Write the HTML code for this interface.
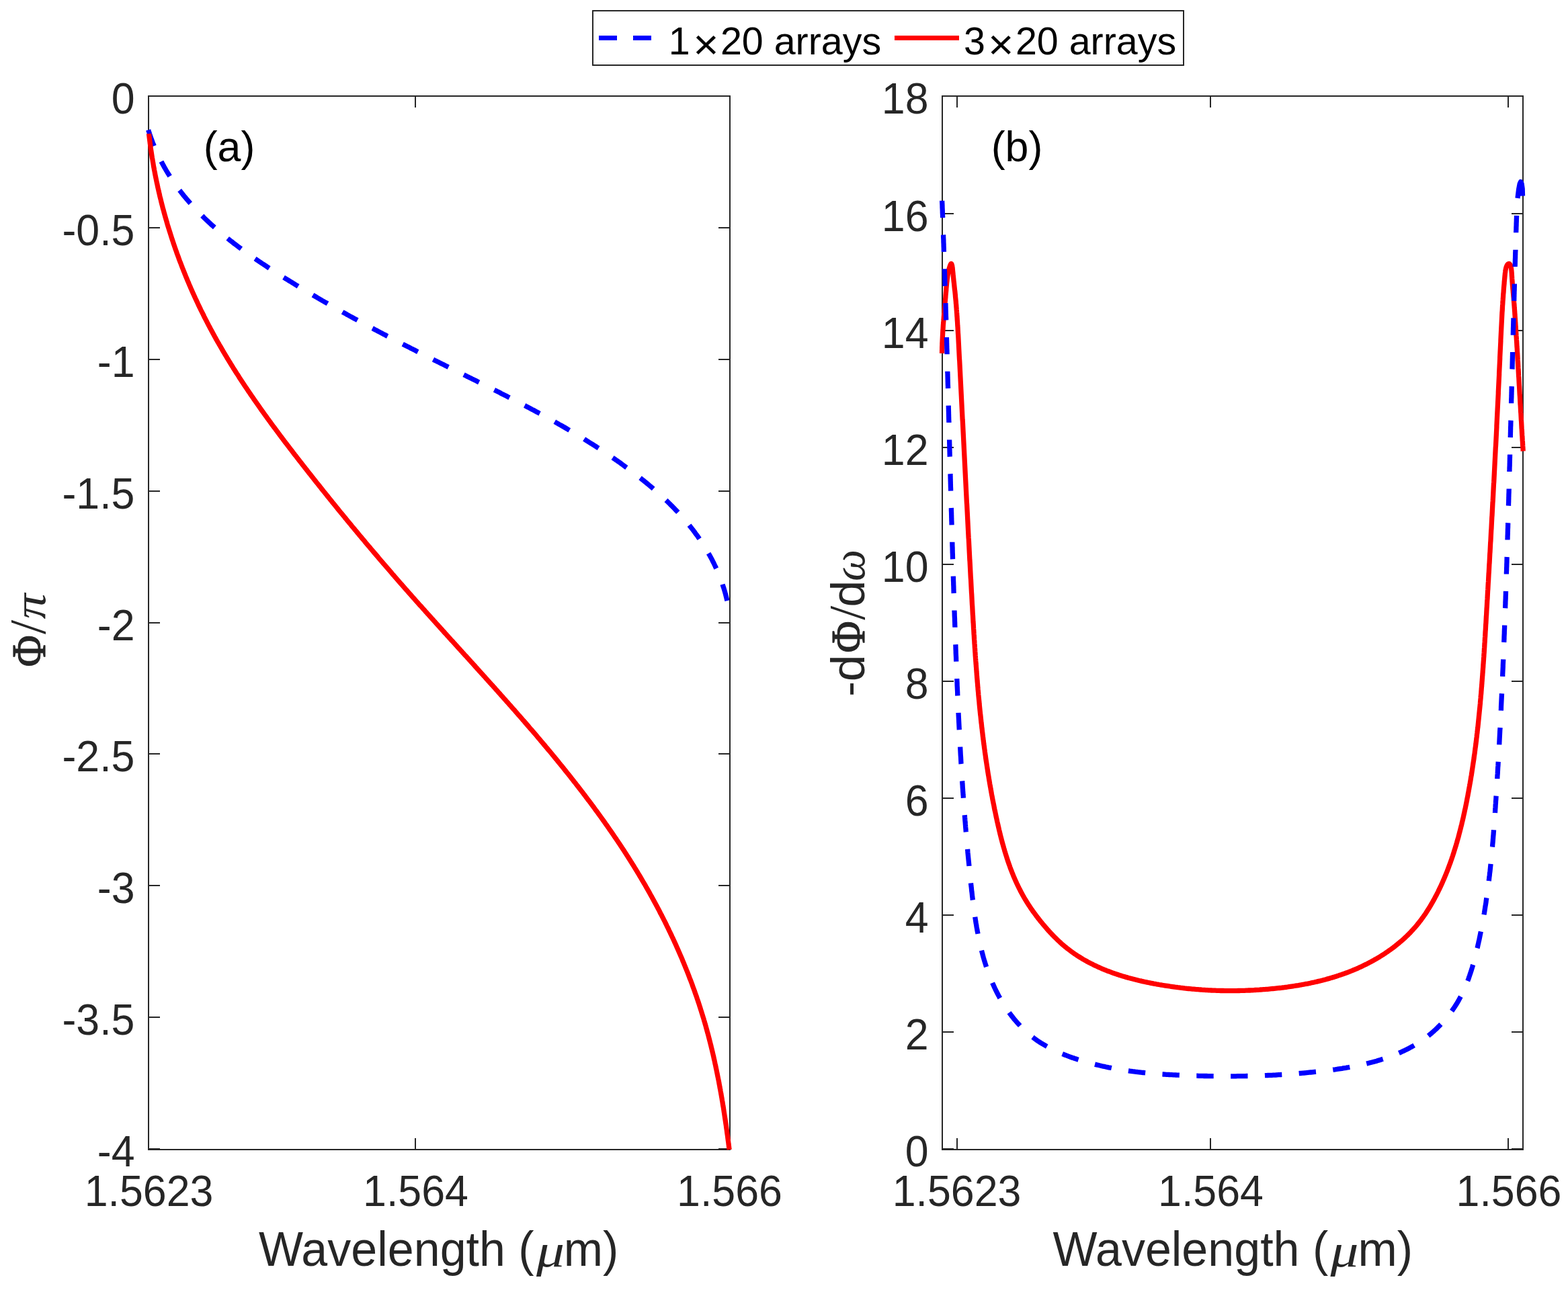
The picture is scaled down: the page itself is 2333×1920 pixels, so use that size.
<!DOCTYPE html>
<html><head><meta charset="utf-8"><title>Phase and group delay of 1x20 and 3x20 arrays</title>
<style>html,body{margin:0;padding:0;background:#fff;overflow:hidden;}svg{display:block;}</style>
</head><body>
<svg width="2333" height="1920" viewBox="0 0 2333 1920">
<rect width="2333" height="1920" fill="#fff"/>
<rect x="221" y="143" width="865" height="1568" fill="none" stroke="#262626" stroke-width="2"/>
<path d="M221 1711V1694M221 143V160M618 1711V1694M618 143V160M1086 1711V1694M1086 143V160M221 143.0H238M1086 143.0H1069M221 339.0H238M1086 339.0H1069M221 535.0H238M1086 535.0H1069M221 731.0H238M1086 731.0H1069M221 927.0H238M1086 927.0H1069M221 1122.0H238M1086 1122.0H1069M221 1318.0H238M1086 1318.0H1069M221 1514.0H238M1086 1514.0H1069M221 1710.0H238M1086 1710.0H1069" fill="none" stroke="#262626" stroke-width="2"/>
<rect x="1402" y="143" width="864" height="1568" fill="none" stroke="#262626" stroke-width="2"/>
<path d="M1424 1711V1694M1424 143V160M1801 1711V1694M1801 143V160M2244 1711V1694M2244 143V160M1402 1710.0H1419M2266 1710.0H2249M1402 1536.0H1419M2266 1536.0H2249M1402 1362.0H1419M2266 1362.0H2249M1402 1188.0H1419M2266 1188.0H2249M1402 1014.0H1419M2266 1014.0H2249M1402 840.0H1419M2266 840.0H2249M1402 666.0H1419M2266 666.0H2249M1402 492.0H1419M2266 492.0H2249M1402 318.0H1419M2266 318.0H2249M1402 143.0H1419M2266 143.0H2249" fill="none" stroke="#262626" stroke-width="2"/>
<path d="M220.6 193.1L221.2 195.1L221.9 197.1L222.5 199.1L223.2 201.1L223.9 203.1L224.6 205.1L225.3 207.0L226.0 209.0L226.7 210.9L227.4 212.8L228.2 214.7L229.0 216.6L229.7 218.5L230.5 220.4L231.3 222.3L232.2 224.1L233.0 226.0L233.8 227.8L234.7 229.7L235.5 231.5L236.4 233.3L237.3 235.1L238.2 236.9L239.1 238.7L240.0 240.5L241.0 242.3L241.9 244.1L242.9 245.8L243.8 247.6L244.8 249.3L245.8 251.0L246.8 252.8L247.8 254.5L248.8 256.2L249.9 257.9L250.9 259.6L252.0 261.2L253.0 262.9L254.1 264.6L255.2 266.2L256.3 267.9L257.4 269.5L258.5 271.2L259.6 272.8L260.8 274.4L261.9 276.0L263.1 277.6L264.2 279.2L265.4 280.8L266.6 282.4L267.8 283.9L269.0 285.5L270.2 287.0L271.4 288.6L272.6 290.1L273.9 291.7L275.1 293.2L276.4 294.7L277.6 296.2L278.9 297.7L280.2 299.2L281.5 300.7L282.8 302.2L284.1 303.7L285.4 305.1L286.7 306.6L288.1 308.0L289.4 309.5L290.7 310.9L292.1 312.4L293.4 313.8L294.8 315.2L296.2 316.6L297.6 318.0L299.0 319.4L300.4 320.8L301.8 322.2L303.2 323.6L304.6 325.0L306.0 326.4L307.5 327.7L308.9 329.1L310.4 330.4L311.8 331.8L313.3 333.1L314.7 334.5L316.2 335.8L317.7 337.1L319.2 338.4L320.7 339.7L322.2 341.1L323.7 342.4L325.2 343.7L326.7 344.9L328.2 346.2L329.7 347.5L331.3 348.8L332.8 350.1L334.3 351.3L335.9 352.6L337.4 353.8L339.0 355.1L340.6 356.3L342.1 357.6L343.7 358.8L345.3 360.0L346.9 361.3L348.4 362.5L350.0 363.7L351.6 364.9L353.2 366.1L354.8 367.3L356.4 368.5L358.1 369.7L359.7 370.9L361.3 372.1L362.9 373.3L364.5 374.5L366.2 375.6L367.8 376.8L369.4 378.0L371.1 379.1L372.7 380.3L374.4 381.5L376.0 382.6L377.7 383.8L379.3 384.9L381.0 386.0L382.7 387.2L384.3 388.3L386.0 389.4L387.7 390.6L389.3 391.7L391.0 392.8L392.7 393.9L394.4 395.0L396.1 396.1L397.7 397.3L399.4 398.4L401.1 399.5L402.8 400.6L404.5 401.7L406.2 402.7L407.9 403.8L409.6 404.9L411.3 406.0L413.0 407.1L414.7 408.2L416.4 409.2L418.1 410.3L419.8 411.4L421.5 412.5L423.2 413.5L424.9 414.6L426.6 415.7L428.3 416.7L430.0 417.8L431.8 418.8L433.5 419.9L435.2 420.9L436.9 422.0L438.6 423.0L440.3 424.1L442.0 425.1L443.7 426.2L445.5 427.2L447.2 428.2L448.9 429.3L450.6 430.3L452.3 431.3L454.1 432.4L455.8 433.4L457.5 434.4L459.2 435.4L460.9 436.5L462.7 437.5L464.4 438.5L466.1 439.5L467.8 440.5L469.6 441.5L471.3 442.5L473.0 443.6L474.8 444.6L476.5 445.6L478.2 446.6L479.9 447.6L481.7 448.6L483.4 449.6L485.1 450.6L486.9 451.5L488.6 452.5L490.3 453.5L492.1 454.5L493.8 455.5L495.6 456.5L497.3 457.5L499.0 458.4L500.8 459.4L502.5 460.4L504.2 461.4L506.0 462.4L507.7 463.3L509.5 464.3L511.2 465.3L513.0 466.2L514.7 467.2L516.4 468.2L518.2 469.1L519.9 470.1L521.7 471.1L523.4 472.0L525.2 473.0L526.9 473.9L528.7 474.9L530.4 475.8L532.2 476.8L533.9 477.7L535.7 478.7L537.4 479.6L539.2 480.6L540.9 481.5L542.7 482.5L544.5 483.4L546.2 484.4L548.0 485.3L549.7 486.2L551.5 487.2L553.2 488.1L555.0 489.0L556.7 490.0L558.5 490.9L560.3 491.8L562.0 492.8L563.8 493.7L565.6 494.6L567.3 495.6L569.1 496.5L570.8 497.4L572.6 498.3L574.4 499.3L576.1 500.2L577.9 501.1L579.7 502.0L581.4 502.9L583.2 503.9L585.0 504.8L586.7 505.7L588.5 506.6L590.3 507.5L592.0 508.4L593.8 509.4L595.6 510.3L597.4 511.2L599.1 512.1L600.9 513.0L602.7 513.9L604.4 514.8L606.2 515.7L608.0 516.6L609.8 517.5L611.5 518.4L613.3 519.3L615.1 520.2L616.9 521.1L618.6 522.0L620.4 523.0L622.2 523.9L624.0 524.8L625.8 525.7L627.5 526.5L629.3 527.4L631.1 528.3L632.9 529.2L634.7 530.1L636.4 531.0L638.2 531.9L640.0 532.8L641.8 533.7L643.6 534.6L645.3 535.5L647.1 536.4L648.9 537.3L650.7 538.2L652.5 539.1L654.3 540.0L656.1 540.9L657.8 541.7L659.6 542.6L661.4 543.5L663.2 544.4L665.0 545.3L666.8 546.2L668.6 547.1L670.4 548.0L672.1 548.9L673.9 549.8L675.7 550.6L677.5 551.5L679.3 552.4L681.1 553.3L682.9 554.2L684.7 555.1L686.5 556.0L688.3 556.9L690.0 557.7L691.8 558.6L693.6 559.5L695.4 560.4L697.2 561.3L699.0 562.2L700.8 563.1L702.6 564.0L704.4 564.8L706.2 565.7L708.0 566.6L709.8 567.5L711.5 568.4L713.3 569.3L715.1 570.2L716.9 571.1L718.7 572.0L720.5 572.9L722.3 573.8L724.1 574.7L725.9 575.6L727.7 576.4L729.5 577.3L731.2 578.2L733.0 579.1L734.8 580.0L736.6 580.9L738.4 581.8L740.2 582.7L742.0 583.6L743.8 584.5L745.5 585.5L747.3 586.4L749.1 587.3L750.9 588.2L752.7 589.1L754.5 590.0L756.2 590.9L758.0 591.8L759.8 592.7L761.6 593.6L763.4 594.6L765.1 595.5L766.9 596.4L768.7 597.3L770.5 598.2L772.3 599.2L774.0 600.1L775.8 601.0L777.6 601.9L779.3 602.9L781.1 603.8L782.9 604.7L784.7 605.7L786.4 606.6L788.2 607.5L790.0 608.5L791.7 609.4L793.5 610.3L795.3 611.3L797.0 612.2L798.8 613.2L800.5 614.1L802.3 615.1L804.1 616.0L805.8 617.0L807.6 617.9L809.3 618.9L811.1 619.9L812.8 620.8L814.6 621.8L816.3 622.8L818.1 623.7L819.8 624.7L821.6 625.7L823.3 626.7L825.1 627.6L826.8 628.6L828.6 629.6L830.3 630.6L832.0 631.6L833.8 632.6L835.5 633.5L837.2 634.5L839.0 635.5L840.7 636.5L842.4 637.5L844.2 638.6L845.9 639.6L847.6 640.6L849.3 641.6L851.0 642.6L852.8 643.6L854.5 644.6L856.2 645.7L857.9 646.7L859.6 647.7L861.3 648.8L863.0 649.8L864.7 650.8L866.5 651.9L868.2 652.9L869.9 654.0L871.6 655.0L873.2 656.1L874.9 657.1L876.6 658.2L878.3 659.3L880.0 660.3L881.7 661.4L883.4 662.5L885.1 663.5L886.8 664.6L888.4 665.7L890.1 666.8L891.8 667.9L893.5 669.0L895.1 670.1L896.8 671.2L898.5 672.3L900.1 673.4L901.8 674.5L903.4 675.6L905.1 676.7L906.7 677.9L908.4 679.0L910.0 680.1L911.7 681.2L913.3 682.4L915.0 683.5L916.6 684.7L918.3 685.8L919.9 687.0L921.5 688.1L923.2 689.3L924.8 690.5L926.4 691.6L928.0 692.8L929.6 694.0L931.3 695.2L932.9 696.3L934.5 697.5L936.1 698.7L937.7 699.9L939.3 701.1L940.9 702.3L942.5 703.5L944.1 704.8L945.7 706.0L947.3 707.2L948.9 708.4L950.4 709.7L952.0 710.9L953.6 712.1L955.1 713.4L956.7 714.6L958.3 715.9L959.8 717.2L961.4 718.4L962.9 719.7L964.5 721.0L966.0 722.3L967.5 723.5L969.0 724.8L970.6 726.1L972.1 727.4L973.6 728.7L975.1 730.1L976.6 731.4L978.1 732.7L979.6 734.0L981.1 735.4L982.6 736.7L984.0 738.0L985.5 739.4L987.0 740.7L988.4 742.1L989.9 743.5L991.3 744.8L992.7 746.2L994.2 747.6L995.6 749.0L997.0 750.4L998.4 751.8L999.8 753.2L1001.2 754.6L1002.6 756.0L1004.0 757.5L1005.3 758.9L1006.7 760.3L1008.1 761.8L1009.4 763.2L1010.7 764.7L1012.1 766.1L1013.4 767.6L1014.7 769.1L1016.0 770.6L1017.3 772.0L1018.6 773.5L1019.9 775.0L1021.2 776.5L1022.5 778.1L1023.7 779.6L1025.0 781.1L1026.2 782.6L1027.4 784.2L1028.7 785.7L1029.9 787.3L1031.1 788.8L1032.3 790.4L1033.5 792.0L1034.6 793.6L1035.8 795.2L1037.0 796.7L1038.1 798.3L1039.2 800.0L1040.4 801.6L1041.5 803.2L1042.6 804.8L1043.7 806.5L1044.8 808.1L1045.8 809.8L1046.9 811.4L1048.0 813.1L1049.0 814.8L1050.0 816.4L1051.0 818.1L1052.1 819.8L1053.0 821.5L1054.0 823.3L1055.0 825.0L1056.0 826.7L1056.9 828.4L1057.9 830.2L1058.8 831.9L1059.7 833.7L1060.6 835.5L1061.5 837.2L1062.4 839.0L1063.2 840.8L1064.1 842.6L1064.9 844.4L1065.8 846.2L1066.6 848.1L1067.4 849.9L1068.2 851.7L1068.9 853.6L1069.7 855.4L1070.4 857.3L1071.2 859.2L1071.9 861.1L1072.6 863.0L1073.3 864.9L1074.0 866.8L1074.7 868.7L1075.3 870.6L1075.9 872.5L1076.6 874.5L1077.2 876.4L1077.8 878.4L1078.4 880.4L1078.9 882.3L1079.5 884.3L1080.0 886.3L1080.5 888.3L1081.0 890.3L1081.5 892.4L1082.0 894.4L1082.5 896.4L1082.9 898.5L1083.3 900.6L1083.8 902.6L1084.2 904.7L1084.5 906.8L1084.9 908.9L1085.3 911.0L1085.6 913.1" fill="none" stroke="#00f" stroke-width="7.3" stroke-dasharray="25.4 25.401" stroke-dashoffset="-0.292"/>
<path d="M221.5 199.0L221.7 201.0L222.0 203.0L222.2 205.0L222.5 207.0L222.7 209.0L223.0 211.0L223.2 213.0L223.5 215.0L223.8 217.0L224.0 219.0L224.3 221.0L224.6 223.0L224.9 224.9L225.2 226.9L225.5 228.9L225.8 230.9L226.1 232.9L226.4 234.9L226.8 236.8L227.1 238.8L227.4 240.8L227.8 242.8L228.1 244.8L228.4 246.7L228.8 248.7L229.2 250.7L229.5 252.6L229.9 254.6L230.3 256.6L230.6 258.6L231.0 260.5L231.4 262.5L231.8 264.4L232.2 266.4L232.6 268.4L233.0 270.3L233.4 272.3L233.9 274.2L234.3 276.2L234.7 278.2L235.1 280.1L235.6 282.1L236.0 284.0L236.5 286.0L236.9 287.9L237.4 289.9L237.8 291.8L238.3 293.8L238.8 295.7L239.3 297.6L239.7 299.6L240.2 301.5L240.7 303.5L241.2 305.4L241.7 307.3L242.2 309.3L242.7 311.2L243.3 313.1L243.8 315.1L244.3 317.0L244.8 318.9L245.4 320.8L245.9 322.8L246.5 324.7L247.0 326.6L247.6 328.5L248.1 330.4L248.7 332.4L249.2 334.3L249.8 336.2L250.4 338.1L251.0 340.0L251.6 341.9L252.2 343.8L252.8 345.7L253.4 347.6L254.0 349.5L254.6 351.4L255.2 353.3L255.8 355.2L256.4 357.1L257.1 359.0L257.7 360.9L258.3 362.8L259.0 364.7L259.6 366.6L260.3 368.5L260.9 370.4L261.6 372.2L262.3 374.1L262.9 376.0L263.6 377.9L264.3 379.8L265.0 381.6L265.7 383.5L266.3 385.4L267.0 387.2L267.7 389.1L268.5 391.0L269.2 392.8L269.9 394.7L270.6 396.6L271.3 398.4L272.1 400.3L272.8 402.1L273.5 404.0L274.3 405.8L275.0 407.7L275.8 409.5L276.5 411.4L277.3 413.2L278.0 415.1L278.8 416.9L279.6 418.8L280.4 420.6L281.1 422.4L281.9 424.3L282.7 426.1L283.5 427.9L284.3 429.8L285.1 431.6L285.9 433.4L286.7 435.2L287.5 437.1L288.4 438.9L289.2 440.7L290.0 442.5L290.8 444.3L291.7 446.1L292.5 447.9L293.4 449.8L294.2 451.6L295.1 453.4L295.9 455.2L296.8 457.0L297.7 458.8L298.5 460.6L299.4 462.4L300.3 464.1L301.2 465.9L302.1 467.7L303.0 469.5L303.8 471.3L304.7 473.1L305.7 474.9L306.6 476.6L307.5 478.4L308.4 480.2L309.3 481.9L310.2 483.7L311.2 485.5L312.1 487.2L313.0 489.0L314.0 490.8L314.9 492.5L315.9 494.3L316.8 496.0L317.8 497.8L318.7 499.5L319.7 501.3L320.7 503.0L321.6 504.8L322.6 506.5L323.6 508.3L324.6 510.0L325.6 511.7L326.6 513.5L327.6 515.2L328.6 516.9L329.6 518.6L330.6 520.4L331.6 522.1L332.6 523.8L333.6 525.5L334.6 527.3L335.7 529.0L336.7 530.7L337.7 532.4L338.7 534.1L339.8 535.8L340.8 537.5L341.9 539.2L342.9 540.9L344.0 542.6L345.0 544.3L346.1 546.0L347.1 547.7L348.2 549.4L349.3 551.1L350.3 552.8L351.4 554.5L352.5 556.2L353.6 557.8L354.7 559.5L355.7 561.2L356.8 562.9L357.9 564.6L359.0 566.2L360.1 567.9L361.2 569.6L362.3 571.2L363.4 572.9L364.5 574.6L365.6 576.2L366.8 577.9L367.9 579.6L369.0 581.2L370.1 582.9L371.2 584.5L372.4 586.2L373.5 587.9L374.6 589.5L375.8 591.2L376.9 592.8L378.0 594.5L379.2 596.1L380.3 597.7L381.5 599.4L382.6 601.0L383.8 602.7L384.9 604.3L386.1 605.9L387.2 607.6L388.4 609.2L389.5 610.9L390.7 612.5L391.9 614.1L393.0 615.7L394.2 617.4L395.4 619.0L396.6 620.6L397.7 622.2L398.9 623.9L400.1 625.5L401.3 627.1L402.5 628.7L403.6 630.4L404.8 632.0L406.0 633.6L407.2 635.2L408.4 636.8L409.6 638.4L410.8 640.0L412.0 641.6L413.2 643.2L414.4 644.9L415.6 646.5L416.8 648.1L418.0 649.7L419.2 651.3L420.4 652.9L421.6 654.5L422.8 656.1L424.0 657.7L425.2 659.3L426.5 660.9L427.7 662.5L428.9 664.0L430.1 665.6L431.3 667.2L432.5 668.8L433.8 670.4L435.0 672.0L436.2 673.6L437.4 675.2L438.6 676.8L439.9 678.3L441.1 679.9L442.3 681.5L443.6 683.1L444.8 684.7L446.0 686.3L447.2 687.8L448.5 689.4L449.7 691.0L450.9 692.6L452.2 694.1L453.4 695.7L454.6 697.3L455.9 698.9L457.1 700.4L458.3 702.0L459.6 703.6L460.8 705.2L462.1 706.7L463.3 708.3L464.5 709.9L465.8 711.4L467.0 713.0L468.3 714.6L469.5 716.1L470.7 717.7L472.0 719.3L473.2 720.8L474.5 722.4L475.7 723.9L477.0 725.5L478.2 727.1L479.4 728.6L480.7 730.2L481.9 731.7L483.2 733.3L484.4 734.9L485.7 736.4L486.9 738.0L488.2 739.5L489.4 741.1L490.7 742.6L491.9 744.2L493.2 745.7L494.4 747.3L495.7 748.8L496.9 750.4L498.2 751.9L499.5 753.5L500.7 755.0L502.0 756.6L503.2 758.1L504.5 759.7L505.7 761.2L507.0 762.8L508.3 764.3L509.5 765.8L510.8 767.4L512.1 768.9L513.3 770.5L514.6 772.0L515.8 773.5L517.1 775.1L518.4 776.6L519.6 778.2L520.9 779.7L522.2 781.2L523.4 782.8L524.7 784.3L526.0 785.8L527.3 787.4L528.5 788.9L529.8 790.4L531.1 792.0L532.4 793.5L533.6 795.0L534.9 796.6L536.2 798.1L537.5 799.6L538.7 801.1L540.0 802.7L541.3 804.2L542.6 805.7L543.8 807.3L545.1 808.8L546.4 810.3L547.7 811.8L549.0 813.3L550.3 814.9L551.5 816.4L552.8 817.9L554.1 819.4L555.4 821.0L556.7 822.5L558.0 824.0L559.3 825.5L560.6 827.0L561.9 828.5L563.1 830.1L564.4 831.6L565.7 833.1L567.0 834.6L568.3 836.1L569.6 837.6L570.9 839.2L572.2 840.7L573.5 842.2L574.8 843.7L576.1 845.2L577.4 846.7L578.7 848.2L580.0 849.7L581.3 851.2L582.6 852.7L583.9 854.3L585.2 855.8L586.6 857.3L587.9 858.8L589.2 860.3L590.5 861.8L591.8 863.3L593.1 864.8L594.4 866.3L595.7 867.8L597.0 869.3L598.4 870.8L599.7 872.3L601.0 873.8L602.3 875.3L603.6 876.8L604.9 878.3L606.3 879.8L607.6 881.3L608.9 882.8L610.2 884.3L611.6 885.8L612.9 887.3L614.2 888.8L615.5 890.3L616.9 891.8L618.2 893.3L619.5 894.8L620.8 896.3L622.2 897.8L623.5 899.3L624.8 900.8L626.2 902.2L627.5 903.7L628.8 905.2L630.2 906.7L631.5 908.2L632.8 909.7L634.2 911.2L635.5 912.7L636.9 914.2L638.2 915.7L639.5 917.2L640.9 918.6L642.2 920.1L643.5 921.6L644.9 923.1L646.2 924.6L647.6 926.1L648.9 927.6L650.2 929.1L651.6 930.6L652.9 932.0L654.3 933.5L655.6 935.0L657.0 936.5L658.3 938.0L659.7 939.5L661.0 941.0L662.3 942.5L663.7 943.9L665.0 945.4L666.4 946.9L667.7 948.4L669.1 949.9L670.4 951.4L671.8 952.9L673.1 954.3L674.5 955.8L675.8 957.3L677.2 958.8L678.5 960.3L679.9 961.8L681.2 963.3L682.5 964.7L683.9 966.2L685.2 967.7L686.6 969.2L687.9 970.7L689.3 972.2L690.6 973.7L692.0 975.2L693.3 976.6L694.7 978.1L696.0 979.6L697.4 981.1L698.7 982.6L700.1 984.1L701.4 985.6L702.8 987.1L704.1 988.5L705.5 990.0L706.8 991.5L708.1 993.0L709.5 994.5L710.8 996.0L712.2 997.5L713.5 999.0L714.9 1000.5L716.2 1001.9L717.6 1003.4L718.9 1004.9L720.3 1006.4L721.6 1007.9L722.9 1009.4L724.3 1010.9L725.6 1012.4L727.0 1013.9L728.3 1015.4L729.7 1016.9L731.0 1018.4L732.3 1019.8L733.7 1021.3L735.0 1022.8L736.4 1024.3L737.7 1025.8L739.0 1027.3L740.4 1028.8L741.7 1030.3L743.0 1031.8L744.4 1033.3L745.7 1034.8L747.0 1036.3L748.4 1037.8L749.7 1039.3L751.0 1040.8L752.4 1042.3L753.7 1043.8L755.0 1045.3L756.4 1046.8L757.7 1048.3L759.0 1049.8L760.4 1051.3L761.7 1052.8L763.0 1054.3L764.3 1055.8L765.7 1057.3L767.0 1058.9L768.3 1060.4L769.6 1061.9L770.9 1063.4L772.3 1064.9L773.6 1066.4L774.9 1067.9L776.2 1069.4L777.5 1070.9L778.9 1072.4L780.2 1074.0L781.5 1075.5L782.8 1077.0L784.1 1078.5L785.4 1080.0L786.7 1081.5L788.0 1083.1L789.3 1084.6L790.6 1086.1L792.0 1087.6L793.3 1089.1L794.6 1090.7L795.9 1092.2L797.2 1093.7L798.5 1095.2L799.8 1096.8L801.1 1098.3L802.4 1099.8L803.6 1101.3L804.9 1102.9L806.2 1104.4L807.5 1105.9L808.8 1107.5L810.1 1109.0L811.4 1110.5L812.7 1112.1L814.0 1113.6L815.2 1115.1L816.5 1116.7L817.8 1118.2L819.1 1119.7L820.4 1121.3L821.6 1122.8L822.9 1124.4L824.2 1125.9L825.4 1127.4L826.7 1129.0L828.0 1130.5L829.3 1132.1L830.5 1133.6L831.8 1135.2L833.0 1136.7L834.3 1138.3L835.6 1139.8L836.8 1141.4L838.1 1142.9L839.3 1144.5L840.6 1146.1L841.8 1147.6L843.1 1149.2L844.3 1150.7L845.6 1152.3L846.8 1153.9L848.1 1155.4L849.3 1157.0L850.5 1158.6L851.8 1160.1L853.0 1161.7L854.2 1163.3L855.5 1164.8L856.7 1166.4L857.9 1168.0L859.2 1169.6L860.4 1171.1L861.6 1172.7L862.8 1174.3L864.0 1175.9L865.3 1177.5L866.5 1179.0L867.7 1180.6L868.9 1182.2L870.1 1183.8L871.3 1185.4L872.5 1187.0L873.7 1188.6L874.9 1190.2L876.1 1191.8L877.3 1193.3L878.5 1194.9L879.7 1196.5L880.9 1198.1L882.1 1199.7L883.3 1201.3L884.5 1203.0L885.6 1204.6L886.8 1206.2L888.0 1207.8L889.2 1209.4L890.3 1211.0L891.5 1212.6L892.7 1214.2L893.8 1215.8L895.0 1217.5L896.2 1219.1L897.3 1220.7L898.5 1222.3L899.6 1223.9L900.8 1225.6L901.9 1227.2L903.1 1228.8L904.2 1230.5L905.4 1232.1L906.5 1233.7L907.6 1235.4L908.8 1237.0L909.9 1238.6L911.0 1240.3L912.2 1241.9L913.3 1243.6L914.4 1245.2L915.5 1246.9L916.7 1248.5L917.8 1250.2L918.9 1251.8L920.0 1253.5L921.1 1255.1L922.2 1256.8L923.3 1258.4L924.4 1260.1L925.5 1261.8L926.6 1263.4L927.7 1265.1L928.8 1266.8L929.8 1268.4L930.9 1270.1L932.0 1271.8L933.1 1273.5L934.2 1275.1L935.2 1276.8L936.3 1278.5L937.4 1280.2L938.4 1281.9L939.5 1283.6L940.5 1285.2L941.6 1286.9L942.6 1288.6L943.7 1290.3L944.7 1292.0L945.8 1293.7L946.8 1295.4L947.9 1297.1L948.9 1298.8L949.9 1300.5L950.9 1302.2L952.0 1304.0L953.0 1305.7L954.0 1307.4L955.0 1309.1L956.0 1310.8L957.0 1312.5L958.0 1314.3L959.1 1316.0L960.1 1317.7L961.0 1319.4L962.0 1321.2L963.0 1322.9L964.0 1324.6L965.0 1326.4L966.0 1328.1L967.0 1329.9L967.9 1331.6L968.9 1333.4L969.9 1335.1L970.8 1336.9L971.8 1338.6L972.7 1340.4L973.7 1342.1L974.6 1343.9L975.6 1345.6L976.5 1347.4L977.5 1349.1L978.4 1350.9L979.3 1352.7L980.3 1354.4L981.2 1356.2L982.1 1358.0L983.0 1359.8L984.0 1361.5L984.9 1363.3L985.8 1365.1L986.7 1366.9L987.6 1368.7L988.5 1370.4L989.4 1372.2L990.3 1374.0L991.2 1375.8L992.0 1377.6L992.9 1379.4L993.8 1381.2L994.7 1383.0L995.5 1384.8L996.4 1386.6L997.3 1388.4L998.1 1390.2L999.0 1392.0L999.8 1393.8L1000.7 1395.6L1001.5 1397.4L1002.4 1399.3L1003.2 1401.1L1004.0 1402.9L1004.9 1404.7L1005.7 1406.5L1006.5 1408.4L1007.3 1410.2L1008.1 1412.0L1008.9 1413.8L1009.7 1415.7L1010.5 1417.5L1011.3 1419.3L1012.1 1421.2L1012.9 1423.0L1013.7 1424.8L1014.5 1426.7L1015.3 1428.5L1016.0 1430.4L1016.8 1432.2L1017.6 1434.1L1018.3 1435.9L1019.1 1437.8L1019.8 1439.6L1020.6 1441.5L1021.3 1443.3L1022.1 1445.2L1022.8 1447.0L1023.6 1448.9L1024.3 1450.8L1025.0 1452.6L1025.7 1454.5L1026.4 1456.4L1027.2 1458.2L1027.9 1460.1L1028.6 1462.0L1029.3 1463.8L1030.0 1465.7L1030.6 1467.6L1031.3 1469.5L1032.0 1471.3L1032.7 1473.2L1033.4 1475.1L1034.0 1477.0L1034.7 1478.9L1035.4 1480.8L1036.0 1482.6L1036.7 1484.5L1037.3 1486.4L1038.0 1488.3L1038.6 1490.2L1039.2 1492.1L1039.9 1494.0L1040.5 1495.9L1041.1 1497.8L1041.7 1499.7L1042.3 1501.6L1042.9 1503.5L1043.5 1505.4L1044.1 1507.3L1044.7 1509.3L1045.3 1511.2L1045.9 1513.1L1046.5 1515.0L1047.1 1516.9L1047.6 1518.8L1048.2 1520.7L1048.8 1522.7L1049.3 1524.6L1049.9 1526.5L1050.4 1528.4L1050.9 1530.4L1051.5 1532.3L1052.0 1534.2L1052.5 1536.1L1053.1 1538.1L1053.6 1540.0L1054.1 1541.9L1054.6 1543.9L1055.1 1545.8L1055.6 1547.7L1056.1 1549.7L1056.6 1551.6L1057.1 1553.6L1057.6 1555.5L1058.1 1557.5L1058.5 1559.4L1059.0 1561.3L1059.5 1563.3L1059.9 1565.2L1060.4 1567.2L1060.9 1569.1L1061.3 1571.1L1061.8 1573.0L1062.2 1575.0L1062.6 1576.9L1063.1 1578.9L1063.5 1580.9L1063.9 1582.8L1064.4 1584.8L1064.8 1586.7L1065.2 1588.7L1065.6 1590.7L1066.0 1592.6L1066.4 1594.6L1066.8 1596.5L1067.2 1598.5L1067.6 1600.5L1068.0 1602.4L1068.4 1604.4L1068.8 1606.4L1069.2 1608.3L1069.6 1610.3L1069.9 1612.3L1070.3 1614.2L1070.7 1616.2L1071.0 1618.2L1071.4 1620.2L1071.8 1622.1L1072.1 1624.1L1072.5 1626.1L1072.8 1628.0L1073.2 1630.0L1073.5 1632.0L1073.9 1634.0L1074.2 1635.9L1074.5 1637.9L1074.9 1639.9L1075.2 1641.9L1075.5 1643.9L1075.8 1645.8L1076.2 1647.8L1076.5 1649.8L1076.8 1651.8L1077.1 1653.8L1077.4 1655.7L1077.7 1657.7L1078.0 1659.7L1078.3 1661.7L1078.6 1663.7L1078.9 1665.6L1079.2 1667.6L1079.5 1669.6L1079.8 1671.6L1080.1 1673.6L1080.4 1675.5L1080.6 1677.5L1080.9 1679.5L1081.2 1681.5L1081.5 1683.5L1081.7 1685.5L1082.0 1687.4L1082.3 1689.4L1082.6 1691.4L1082.8 1693.4L1083.1 1695.4L1083.3 1697.3L1083.6 1699.3L1083.9 1701.3L1084.1 1703.3L1084.4 1705.3L1084.6 1707.3L1084.9 1709.2L1085.1 1711.2" fill="none" stroke="#f00" stroke-width="7.3" stroke-linejoin="round"/>
<path d="M1401.5 525.8L1401.6 523.7L1401.6 521.6L1401.7 519.4L1401.7 517.3L1401.8 515.3L1401.9 513.2L1401.9 511.2L1402.0 509.1L1402.1 507.1L1402.2 505.1L1402.3 503.1L1402.4 501.1L1402.5 499.1L1402.6 497.2L1402.7 495.2L1402.8 493.3L1402.9 491.3L1403.1 489.4L1403.2 487.4L1403.3 485.5L1403.4 483.6L1403.6 481.7L1403.7 479.7L1403.9 477.8L1404.0 475.9L1404.2 473.9L1404.3 472.0L1404.5 470.1L1404.6 468.1L1404.8 466.2L1405.0 464.3L1405.1 462.3L1405.3 460.3L1405.5 458.4L1405.6 456.4L1405.8 454.4L1406.0 452.4L1406.1 450.4L1406.3 448.4L1406.5 446.3L1406.7 444.3L1406.9 442.2L1407.0 440.1L1407.2 438.0L1407.4 435.9L1407.6 433.8L1407.8 431.6L1407.9 429.5L1408.1 427.3L1408.3 425.1L1408.5 423.0L1408.7 420.8L1409.0 418.7L1409.2 416.6L1409.5 414.5L1409.8 412.4L1410.0 410.4L1410.4 408.4L1410.7 406.5L1411.1 404.6L1411.4 402.8L1411.9 401.1L1412.3 399.4L1412.8 397.8L1413.3 396.2L1413.8 394.8L1414.4 393.5L1414.9 392.7L1415.4 392.5L1415.8 392.9L1416.2 393.9L1416.6 395.3L1416.9 397.0L1417.1 399.1L1417.4 401.3L1417.6 403.7L1417.9 406.1L1418.1 408.5L1418.3 410.8L1418.6 413.1L1418.8 415.3L1419.0 417.4L1419.2 419.5L1419.5 421.6L1419.7 423.6L1419.9 425.6L1420.1 427.6L1420.3 429.5L1420.5 431.5L1420.8 433.4L1421.0 435.4L1421.2 437.3L1421.4 439.3L1421.5 441.2L1421.7 443.2L1421.9 445.1L1422.1 447.1L1422.3 449.0L1422.4 451.0L1422.6 452.9L1422.8 454.9L1422.9 456.9L1423.1 458.8L1423.2 460.8L1423.4 462.8L1423.5 464.8L1423.7 466.7L1423.8 468.7L1423.9 470.7L1424.1 472.7L1424.2 474.7L1424.3 476.6L1424.5 478.6L1424.6 480.6L1424.7 482.6L1424.8 484.6L1425.0 486.6L1425.1 488.6L1425.2 490.6L1425.3 492.6L1425.4 494.6L1425.5 496.6L1425.7 498.6L1425.8 500.6L1425.9 502.6L1426.0 504.6L1426.1 506.6L1426.2 508.6L1426.3 510.6L1426.4 512.6L1426.5 514.6L1426.6 516.6L1426.7 518.6L1426.8 520.6L1426.9 522.6L1427.0 524.6L1427.1 526.6L1427.2 528.6L1427.3 530.6L1427.4 532.6L1427.5 534.6L1427.7 536.6L1427.8 538.6L1427.9 540.6L1428.0 542.6L1428.1 544.6L1428.2 546.6L1428.3 548.6L1428.4 550.6L1428.5 552.6L1428.6 554.6L1428.7 556.6L1428.8 558.6L1428.9 560.6L1429.0 562.6L1429.1 564.6L1429.2 566.6L1429.3 568.6L1429.4 570.6L1429.5 572.6L1429.6 574.6L1429.7 576.6L1429.8 578.6L1429.9 580.6L1430.0 582.6L1430.1 584.6L1430.2 586.6L1430.3 588.6L1430.4 590.6L1430.5 592.6L1430.6 594.6L1430.7 596.6L1430.8 598.6L1430.9 600.6L1431.0 602.6L1431.1 604.6L1431.2 606.6L1431.3 608.6L1431.4 610.6L1431.5 612.6L1431.6 614.6L1431.7 616.6L1431.8 618.6L1431.9 620.6L1432.0 622.6L1432.1 624.6L1432.3 626.6L1432.4 628.6L1432.5 630.6L1432.6 632.6L1432.7 634.6L1432.8 636.6L1432.9 638.6L1433.0 640.6L1433.1 642.6L1433.2 644.6L1433.3 646.6L1433.4 648.6L1433.5 650.6L1433.6 652.6L1433.7 654.6L1433.8 656.5L1433.9 658.5L1434.0 660.5L1434.1 662.5L1434.2 664.5L1434.3 666.5L1434.4 668.5L1434.5 670.5L1434.6 672.5L1434.7 674.5L1434.8 676.5L1434.9 678.5L1435.0 680.5L1435.1 682.5L1435.2 684.5L1435.3 686.5L1435.4 688.5L1435.5 690.5L1435.6 692.5L1435.7 694.5L1435.8 696.5L1435.9 698.5L1436.0 700.5L1436.1 702.5L1436.2 704.5L1436.3 706.5L1436.4 708.5L1436.5 710.5L1436.6 712.5L1436.7 714.4L1436.8 716.4L1436.9 718.4L1437.0 720.4L1437.1 722.4L1437.2 724.4L1437.3 726.4L1437.4 728.4L1437.5 730.4L1437.6 732.4L1437.7 734.4L1437.8 736.4L1437.9 738.4L1438.0 740.4L1438.1 742.4L1438.2 744.4L1438.3 746.4L1438.4 748.4L1438.6 750.4L1438.7 752.4L1438.8 754.4L1438.9 756.4L1439.0 758.4L1439.1 760.4L1439.2 762.3L1439.3 764.3L1439.4 766.3L1439.5 768.3L1439.6 770.3L1439.7 772.3L1439.8 774.3L1439.9 776.3L1440.0 778.3L1440.1 780.3L1440.2 782.3L1440.3 784.3L1440.4 786.3L1440.5 788.3L1440.6 790.3L1440.7 792.3L1440.8 794.3L1440.9 796.3L1441.0 798.3L1441.1 800.3L1441.3 802.3L1441.4 804.3L1441.5 806.3L1441.6 808.3L1441.7 810.2L1441.8 812.2L1441.9 814.2L1442.0 816.2L1442.1 818.2L1442.2 820.2L1442.3 822.2L1442.4 824.2L1442.5 826.2L1442.6 828.2L1442.7 830.2L1442.8 832.2L1442.9 834.2L1443.1 836.2L1443.2 838.2L1443.3 840.2L1443.4 842.2L1443.5 844.2L1443.6 846.2L1443.7 848.2L1443.8 850.2L1443.9 852.2L1444.0 854.2L1444.1 856.2L1444.2 858.2L1444.3 860.2L1444.5 862.2L1444.6 864.1L1444.7 866.1L1444.8 868.1L1444.9 870.1L1445.0 872.1L1445.1 874.1L1445.2 876.1L1445.3 878.1L1445.4 880.1L1445.5 882.1L1445.7 884.1L1445.8 886.1L1445.9 888.1L1446.0 890.1L1446.1 892.1L1446.2 894.1L1446.3 896.1L1446.4 898.1L1446.5 900.1L1446.7 902.1L1446.8 904.1L1446.9 906.1L1447.0 908.1L1447.1 910.1L1447.2 912.1L1447.3 914.1L1447.5 916.1L1447.6 918.1L1447.7 920.1L1447.8 922.1L1447.9 924.1L1448.0 926.1L1448.2 928.1L1448.3 930.1L1448.4 932.1L1448.5 934.1L1448.6 936.0L1448.8 938.0L1448.9 940.0L1449.0 942.0L1449.1 944.0L1449.3 946.0L1449.4 948.0L1449.5 950.0L1449.6 952.0L1449.8 954.0L1449.9 956.0L1450.0 958.0L1450.2 960.0L1450.3 962.0L1450.4 964.0L1450.6 966.0L1450.7 968.0L1450.8 970.0L1451.0 972.0L1451.1 974.0L1451.2 976.0L1451.4 978.0L1451.5 980.0L1451.7 982.0L1451.8 984.0L1452.0 986.0L1452.1 988.0L1452.3 989.9L1452.4 991.9L1452.6 993.9L1452.7 995.9L1452.9 997.9L1453.0 999.9L1453.2 1001.9L1453.3 1003.9L1453.5 1005.9L1453.6 1007.9L1453.8 1009.9L1454.0 1011.9L1454.1 1013.9L1454.3 1015.9L1454.5 1017.9L1454.6 1019.9L1454.8 1021.8L1455.0 1023.8L1455.1 1025.8L1455.3 1027.8L1455.5 1029.8L1455.7 1031.8L1455.8 1033.8L1456.0 1035.8L1456.2 1037.8L1456.4 1039.8L1456.6 1041.8L1456.8 1043.8L1457.0 1045.7L1457.1 1047.7L1457.3 1049.7L1457.5 1051.7L1457.7 1053.7L1457.9 1055.7L1458.1 1057.7L1458.3 1059.7L1458.5 1061.7L1458.7 1063.6L1459.0 1065.6L1459.2 1067.6L1459.4 1069.6L1459.6 1071.6L1459.8 1073.6L1460.0 1075.6L1460.3 1077.6L1460.5 1079.5L1460.7 1081.5L1460.9 1083.5L1461.2 1085.5L1461.4 1087.5L1461.6 1089.5L1461.9 1091.5L1462.1 1093.4L1462.3 1095.4L1462.6 1097.4L1462.8 1099.4L1463.1 1101.4L1463.3 1103.4L1463.6 1105.3L1463.8 1107.3L1464.1 1109.3L1464.4 1111.3L1464.6 1113.3L1464.9 1115.2L1465.2 1117.2L1465.4 1119.2L1465.7 1121.2L1466.0 1123.2L1466.3 1125.1L1466.5 1127.1L1466.8 1129.1L1467.1 1131.1L1467.4 1133.1L1467.7 1135.0L1468.0 1137.0L1468.3 1139.0L1468.6 1141.0L1468.9 1142.9L1469.2 1144.9L1469.5 1146.9L1469.8 1148.9L1470.1 1150.8L1470.4 1152.8L1470.8 1154.8L1471.1 1156.8L1471.4 1158.7L1471.7 1160.7L1472.1 1162.7L1472.4 1164.7L1472.7 1166.6L1473.1 1168.6L1473.4 1170.6L1473.8 1172.5L1474.1 1174.5L1474.5 1176.5L1474.8 1178.5L1475.2 1180.4L1475.5 1182.4L1475.9 1184.4L1476.3 1186.3L1476.6 1188.3L1477.0 1190.3L1477.4 1192.2L1477.8 1194.2L1478.2 1196.2L1478.6 1198.1L1479.0 1200.1L1479.3 1202.0L1479.7 1204.0L1480.1 1206.0L1480.6 1207.9L1481.0 1209.9L1481.4 1211.9L1481.8 1213.8L1482.2 1215.8L1482.6 1217.7L1483.1 1219.7L1483.5 1221.7L1483.9 1223.6L1484.4 1225.6L1484.8 1227.5L1485.3 1229.5L1485.7 1231.4L1486.2 1233.4L1486.6 1235.3L1487.1 1237.3L1487.6 1239.2L1488.0 1241.2L1488.5 1243.1L1489.0 1245.1L1489.5 1247.0L1490.0 1249.0L1490.5 1250.9L1491.0 1252.8L1491.5 1254.8L1492.1 1256.7L1492.6 1258.6L1493.2 1260.6L1493.7 1262.5L1494.3 1264.4L1494.8 1266.3L1495.4 1268.2L1496.0 1270.2L1496.6 1272.1L1497.2 1274.0L1497.8 1275.9L1498.4 1277.8L1499.0 1279.7L1499.6 1281.6L1500.3 1283.4L1500.9 1285.3L1501.6 1287.2L1502.3 1289.1L1502.9 1290.9L1503.6 1292.8L1504.3 1294.7L1505.1 1296.5L1505.8 1298.4L1506.5 1300.2L1507.3 1302.1L1508.0 1303.9L1508.8 1305.7L1509.6 1307.6L1510.4 1309.4L1511.2 1311.2L1512.0 1313.0L1512.8 1314.8L1513.7 1316.6L1514.5 1318.4L1515.4 1320.2L1516.3 1322.0L1517.2 1323.7L1518.1 1325.5L1519.0 1327.3L1519.9 1329.0L1520.9 1330.8L1521.8 1332.5L1522.8 1334.2L1523.8 1336.0L1524.8 1337.7L1525.9 1339.4L1526.9 1341.1L1527.9 1342.8L1529.0 1344.5L1530.1 1346.2L1531.2 1347.9L1532.3 1349.5L1533.4 1351.2L1534.5 1352.9L1535.7 1354.5L1536.8 1356.2L1538.0 1357.8L1539.2 1359.4L1540.4 1361.0L1541.6 1362.7L1542.8 1364.3L1544.0 1365.9L1545.2 1367.4L1546.5 1369.0L1547.7 1370.6L1549.0 1372.2L1550.3 1373.7L1551.6 1375.3L1552.9 1376.8L1554.2 1378.4L1555.5 1379.9L1556.8 1381.4L1558.1 1383.0L1559.5 1384.5L1560.8 1386.0L1562.2 1387.4L1563.6 1388.9L1564.9 1390.4L1566.3 1391.8L1567.7 1393.3L1569.1 1394.7L1570.6 1396.1L1572.0 1397.5L1573.4 1398.9L1574.9 1400.3L1576.4 1401.7L1577.8 1403.0L1579.3 1404.4L1580.8 1405.7L1582.3 1407.0L1583.8 1408.3L1585.4 1409.5L1586.9 1410.8L1588.5 1412.0L1590.0 1413.2L1591.6 1414.4L1593.2 1415.6L1594.8 1416.8L1596.4 1417.9L1598.0 1419.1L1599.7 1420.2L1601.3 1421.3L1602.9 1422.4L1604.6 1423.5L1606.3 1424.5L1608.0 1425.5L1609.7 1426.6L1611.3 1427.6L1613.1 1428.6L1614.8 1429.6L1616.5 1430.5L1618.2 1431.5L1620.0 1432.4L1621.7 1433.3L1623.5 1434.2L1625.3 1435.1L1627.0 1436.0L1628.8 1436.9L1630.6 1437.7L1632.4 1438.5L1634.2 1439.4L1636.0 1440.2L1637.9 1441.0L1639.7 1441.8L1641.5 1442.5L1643.4 1443.3L1645.2 1444.0L1647.1 1444.8L1648.9 1445.5L1650.8 1446.2L1652.7 1446.9L1654.5 1447.6L1656.4 1448.3L1658.3 1448.9L1660.2 1449.6L1662.1 1450.2L1664.0 1450.8L1665.9 1451.5L1667.8 1452.1L1669.8 1452.7L1671.7 1453.2L1673.6 1453.8L1675.5 1454.4L1677.5 1454.9L1679.4 1455.5L1681.4 1456.0L1683.3 1456.5L1685.3 1457.0L1687.2 1457.5L1689.2 1458.0L1691.1 1458.5L1693.1 1459.0L1695.0 1459.5L1697.0 1459.9L1699.0 1460.4L1701.0 1460.8L1702.9 1461.2L1704.9 1461.7L1706.9 1462.1L1708.9 1462.5L1710.8 1462.9L1712.8 1463.3L1714.8 1463.7L1716.8 1464.1L1718.8 1464.4L1720.7 1464.8L1722.7 1465.1L1724.7 1465.5L1726.7 1465.8L1728.7 1466.2L1730.7 1466.5L1732.6 1466.8L1734.6 1467.1L1736.6 1467.4L1738.6 1467.7L1740.6 1468.0L1742.6 1468.3L1744.6 1468.6L1746.5 1468.9L1748.5 1469.2L1750.5 1469.4L1752.5 1469.7L1754.5 1469.9L1756.5 1470.2L1758.4 1470.4L1760.4 1470.6L1762.4 1470.9L1764.4 1471.1L1766.4 1471.3L1768.4 1471.5L1770.4 1471.7L1772.4 1471.9L1774.3 1472.1L1776.3 1472.2L1778.3 1472.4L1780.3 1472.6L1782.3 1472.7L1784.3 1472.9L1786.3 1473.0L1788.2 1473.2L1790.2 1473.3L1792.2 1473.4L1794.2 1473.6L1796.2 1473.7L1798.2 1473.8L1800.2 1473.9L1802.2 1474.0L1804.2 1474.1L1806.1 1474.1L1808.1 1474.2L1810.1 1474.3L1812.1 1474.3L1814.1 1474.4L1816.1 1474.5L1818.1 1474.5L1820.1 1474.5L1822.1 1474.6L1824.0 1474.6L1826.0 1474.6L1828.0 1474.6L1830.0 1474.6L1832.0 1474.6L1834.0 1474.6L1836.0 1474.6L1838.0 1474.6L1840.0 1474.6L1842.0 1474.5L1844.0 1474.5L1846.0 1474.4L1847.9 1474.4L1849.9 1474.3L1851.9 1474.3L1853.9 1474.2L1855.9 1474.1L1857.9 1474.0L1859.9 1474.0L1861.9 1473.9L1863.9 1473.8L1865.9 1473.7L1867.9 1473.5L1869.9 1473.4L1871.9 1473.3L1873.9 1473.2L1875.9 1473.0L1877.9 1472.9L1879.9 1472.7L1881.9 1472.6L1883.8 1472.4L1885.8 1472.3L1887.8 1472.1L1889.8 1471.9L1891.8 1471.7L1893.8 1471.5L1895.8 1471.3L1897.8 1471.1L1899.8 1470.9L1901.8 1470.7L1903.8 1470.5L1905.8 1470.3L1907.8 1470.0L1909.8 1469.8L1911.8 1469.5L1913.8 1469.3L1915.8 1469.0L1917.8 1468.7L1919.8 1468.4L1921.7 1468.1L1923.7 1467.8L1925.7 1467.5L1927.7 1467.2L1929.7 1466.9L1931.7 1466.6L1933.6 1466.2L1935.6 1465.9L1937.6 1465.5L1939.6 1465.2L1941.5 1464.8L1943.5 1464.4L1945.5 1464.1L1947.4 1463.7L1949.4 1463.3L1951.4 1462.8L1953.3 1462.4L1955.3 1462.0L1957.2 1461.5L1959.2 1461.1L1961.1 1460.6L1963.1 1460.2L1965.0 1459.7L1967.0 1459.2L1968.9 1458.7L1970.8 1458.2L1972.8 1457.7L1974.7 1457.1L1976.6 1456.6L1978.5 1456.1L1980.4 1455.5L1982.4 1454.9L1984.3 1454.4L1986.2 1453.8L1988.1 1453.2L1990.0 1452.6L1991.9 1451.9L1993.7 1451.3L1995.6 1450.7L1997.5 1450.0L1999.4 1449.3L2001.3 1448.7L2003.1 1448.0L2005.0 1447.3L2006.8 1446.6L2008.7 1445.8L2010.6 1445.1L2012.4 1444.4L2014.2 1443.6L2016.1 1442.8L2017.9 1442.1L2019.7 1441.3L2021.5 1440.5L2023.3 1439.6L2025.2 1438.8L2027.0 1438.0L2028.7 1437.1L2030.5 1436.2L2032.3 1435.4L2034.1 1434.5L2035.9 1433.6L2037.6 1432.6L2039.4 1431.7L2041.1 1430.8L2042.9 1429.8L2044.6 1428.8L2046.4 1427.8L2048.1 1426.8L2049.8 1425.8L2051.5 1424.8L2053.2 1423.8L2054.9 1422.7L2056.6 1421.6L2058.3 1420.6L2060.0 1419.5L2061.7 1418.4L2063.3 1417.2L2065.0 1416.1L2066.6 1414.9L2068.3 1413.8L2069.9 1412.6L2071.5 1411.4L2073.2 1410.2L2074.8 1409.0L2076.3 1407.7L2077.9 1406.5L2079.5 1405.2L2081.1 1403.9L2082.6 1402.6L2084.1 1401.3L2085.7 1400.0L2087.2 1398.7L2088.7 1397.3L2090.1 1396.0L2091.6 1394.6L2093.1 1393.2L2094.5 1391.8L2095.9 1390.4L2097.4 1389.0L2098.8 1387.5L2100.1 1386.1L2101.5 1384.6L2102.8 1383.1L2104.2 1381.6L2105.5 1380.1L2106.8 1378.6L2108.1 1377.1L2109.3 1375.5L2110.6 1374.0L2111.8 1372.4L2113.1 1370.8L2114.3 1369.2L2115.4 1367.6L2116.6 1366.0L2117.8 1364.4L2118.9 1362.8L2120.1 1361.1L2121.2 1359.5L2122.3 1357.8L2123.4 1356.1L2124.4 1354.4L2125.5 1352.8L2126.5 1351.1L2127.6 1349.3L2128.6 1347.6L2129.6 1345.9L2130.6 1344.2L2131.6 1342.4L2132.6 1340.7L2133.5 1339.0L2134.5 1337.2L2135.4 1335.4L2136.3 1333.7L2137.3 1331.9L2138.2 1330.1L2139.1 1328.4L2140.0 1326.6L2140.8 1324.8L2141.7 1323.0L2142.6 1321.2L2143.4 1319.4L2144.3 1317.6L2145.1 1315.8L2145.9 1314.0L2146.7 1312.1L2147.5 1310.3L2148.3 1308.5L2149.1 1306.6L2149.9 1304.8L2150.6 1303.0L2151.4 1301.1L2152.1 1299.3L2152.9 1297.4L2153.6 1295.6L2154.3 1293.7L2155.0 1291.9L2155.7 1290.0L2156.4 1288.1L2157.1 1286.2L2157.8 1284.4L2158.5 1282.5L2159.1 1280.6L2159.8 1278.7L2160.4 1276.8L2161.1 1274.9L2161.7 1273.1L2162.3 1271.2L2162.9 1269.3L2163.5 1267.4L2164.1 1265.4L2164.7 1263.5L2165.3 1261.6L2165.9 1259.7L2166.5 1257.8L2167.0 1255.9L2167.6 1254.0L2168.1 1252.0L2168.7 1250.1L2169.2 1248.2L2169.8 1246.2L2170.3 1244.3L2170.8 1242.4L2171.3 1240.4L2171.8 1238.5L2172.3 1236.6L2172.8 1234.6L2173.3 1232.7L2173.8 1230.7L2174.3 1228.8L2174.8 1226.8L2175.2 1224.9L2175.7 1222.9L2176.2 1221.0L2176.6 1219.0L2177.1 1217.1L2177.5 1215.1L2177.9 1213.2L2178.4 1211.2L2178.8 1209.2L2179.2 1207.3L2179.6 1205.3L2180.1 1203.4L2180.5 1201.4L2180.9 1199.4L2181.3 1197.5L2181.7 1195.5L2182.1 1193.5L2182.5 1191.6L2182.8 1189.6L2183.2 1187.6L2183.6 1185.7L2184.0 1183.7L2184.3 1181.7L2184.7 1179.7L2185.1 1177.8L2185.4 1175.8L2185.8 1173.8L2186.1 1171.9L2186.5 1169.9L2186.8 1167.9L2187.2 1165.9L2187.5 1164.0L2187.9 1162.0L2188.2 1160.0L2188.5 1158.0L2188.8 1156.1L2189.2 1154.1L2189.5 1152.1L2189.8 1150.1L2190.1 1148.2L2190.4 1146.2L2190.7 1144.2L2191.0 1142.2L2191.3 1140.3L2191.6 1138.3L2191.9 1136.3L2192.2 1134.3L2192.5 1132.4L2192.8 1130.4L2193.1 1128.4L2193.3 1126.4L2193.6 1124.4L2193.9 1122.5L2194.2 1120.5L2194.4 1118.5L2194.7 1116.5L2194.9 1114.5L2195.2 1112.5L2195.5 1110.6L2195.7 1108.6L2196.0 1106.6L2196.2 1104.6L2196.5 1102.6L2196.7 1100.6L2196.9 1098.7L2197.2 1096.7L2197.4 1094.7L2197.6 1092.7L2197.9 1090.7L2198.1 1088.7L2198.3 1086.8L2198.5 1084.8L2198.8 1082.8L2199.0 1080.8L2199.2 1078.8L2199.4 1076.8L2199.6 1074.8L2199.8 1072.9L2200.0 1070.9L2200.2 1068.9L2200.4 1066.9L2200.6 1064.9L2200.8 1062.9L2201.0 1060.9L2201.2 1058.9L2201.4 1056.9L2201.6 1055.0L2201.8 1053.0L2202.0 1051.0L2202.2 1049.0L2202.4 1047.0L2202.5 1045.0L2202.7 1043.0L2202.9 1041.0L2203.1 1039.0L2203.2 1037.0L2203.4 1035.1L2203.6 1033.1L2203.8 1031.1L2203.9 1029.1L2204.1 1027.1L2204.2 1025.1L2204.4 1023.1L2204.6 1021.1L2204.7 1019.1L2204.9 1017.1L2205.0 1015.1L2205.2 1013.1L2205.3 1011.2L2205.5 1009.2L2205.6 1007.2L2205.8 1005.2L2205.9 1003.2L2206.1 1001.2L2206.2 999.2L2206.4 997.2L2206.5 995.2L2206.7 993.2L2206.8 991.2L2206.9 989.2L2207.1 987.2L2207.2 985.2L2207.4 983.2L2207.5 981.2L2207.6 979.3L2207.8 977.3L2207.9 975.3L2208.0 973.3L2208.2 971.3L2208.3 969.3L2208.4 967.3L2208.5 965.3L2208.7 963.3L2208.8 961.3L2208.9 959.3L2209.0 957.3L2209.2 955.3L2209.3 953.3L2209.4 951.3L2209.5 949.3L2209.7 947.3L2209.8 945.3L2209.9 943.3L2210.0 941.3L2210.1 939.4L2210.3 937.4L2210.4 935.4L2210.5 933.4L2210.6 931.4L2210.7 929.4L2210.9 927.4L2211.0 925.4L2211.1 923.4L2211.2 921.4L2211.3 919.4L2211.4 917.4L2211.6 915.4L2211.7 913.4L2211.8 911.4L2211.9 909.4L2212.0 907.4L2212.1 905.4L2212.3 903.4L2212.4 901.4L2212.5 899.4L2212.6 897.4L2212.7 895.4L2212.8 893.5L2213.0 891.5L2213.1 889.5L2213.2 887.5L2213.3 885.5L2213.4 883.5L2213.5 881.5L2213.6 879.5L2213.8 877.5L2213.9 875.5L2214.0 873.5L2214.1 871.5L2214.2 869.5L2214.3 867.5L2214.5 865.5L2214.6 863.5L2214.7 861.5L2214.8 859.5L2214.9 857.5L2215.0 855.5L2215.1 853.5L2215.3 851.6L2215.4 849.6L2215.5 847.6L2215.6 845.6L2215.7 843.6L2215.8 841.6L2215.9 839.6L2216.1 837.6L2216.2 835.6L2216.3 833.6L2216.4 831.6L2216.5 829.6L2216.6 827.6L2216.7 825.6L2216.8 823.6L2217.0 821.6L2217.1 819.6L2217.2 817.6L2217.3 815.6L2217.4 813.6L2217.5 811.6L2217.6 809.6L2217.7 807.7L2217.9 805.7L2218.0 803.7L2218.1 801.7L2218.2 799.7L2218.3 797.7L2218.4 795.7L2218.5 793.7L2218.6 791.7L2218.7 789.7L2218.9 787.7L2219.0 785.7L2219.1 783.7L2219.2 781.7L2219.3 779.7L2219.4 777.7L2219.5 775.7L2219.6 773.7L2219.7 771.7L2219.8 769.7L2220.0 767.7L2220.1 765.7L2220.2 763.7L2220.3 761.7L2220.4 759.8L2220.5 757.8L2220.6 755.8L2220.7 753.8L2220.8 751.8L2220.9 749.8L2221.0 747.8L2221.2 745.8L2221.3 743.8L2221.4 741.8L2221.5 739.8L2221.6 737.8L2221.7 735.8L2221.8 733.8L2221.9 731.8L2222.0 729.8L2222.1 727.8L2222.2 725.8L2222.3 723.8L2222.4 721.8L2222.5 719.8L2222.7 717.8L2222.8 715.8L2222.9 713.8L2223.0 711.8L2223.1 709.8L2223.2 707.8L2223.3 705.8L2223.4 703.8L2223.5 701.8L2223.6 699.8L2223.7 697.8L2223.8 695.8L2223.9 693.8L2224.0 691.8L2224.1 689.8L2224.2 687.8L2224.3 685.8L2224.4 683.8L2224.5 681.9L2224.6 679.9L2224.7 677.9L2224.8 675.9L2224.9 673.9L2225.0 671.9L2225.1 669.9L2225.2 667.9L2225.3 665.9L2225.5 663.9L2225.6 661.9L2225.7 659.9L2225.8 657.9L2225.9 655.9L2226.0 653.9L2226.1 651.9L2226.2 649.9L2226.3 647.9L2226.4 645.9L2226.5 643.9L2226.6 641.9L2226.7 639.9L2226.8 637.9L2226.9 635.9L2226.9 633.9L2227.0 631.9L2227.1 629.9L2227.2 627.9L2227.3 625.9L2227.4 623.8L2227.5 621.8L2227.6 619.8L2227.7 617.8L2227.8 615.8L2227.9 613.8L2228.0 611.8L2228.1 609.8L2228.2 607.8L2228.3 605.8L2228.4 603.8L2228.5 601.8L2228.6 599.8L2228.7 597.8L2228.8 595.8L2228.9 593.8L2229.0 591.8L2229.1 589.8L2229.2 587.8L2229.3 585.8L2229.3 583.8L2229.4 581.8L2229.5 579.8L2229.6 577.8L2229.7 575.8L2229.8 573.8L2229.9 571.8L2230.0 569.8L2230.1 567.8L2230.2 565.8L2230.3 563.8L2230.4 561.8L2230.5 559.8L2230.6 557.8L2230.6 555.8L2230.7 553.8L2230.8 551.8L2230.9 549.8L2231.0 547.8L2231.1 545.8L2231.2 543.8L2231.3 541.8L2231.4 539.8L2231.5 537.8L2231.6 535.8L2231.7 533.8L2231.7 531.9L2231.8 529.9L2231.9 527.9L2232.0 525.9L2232.1 523.9L2232.2 521.9L2232.3 519.9L2232.4 517.9L2232.5 516.0L2232.6 514.0L2232.7 512.0L2232.8 510.0L2232.9 508.0L2232.9 506.1L2233.0 504.1L2233.1 502.1L2233.2 500.1L2233.3 498.2L2233.4 496.2L2233.5 494.2L2233.6 492.3L2233.7 490.3L2233.8 488.3L2233.9 486.3L2234.0 484.4L2234.1 482.4L2234.2 480.4L2234.3 478.4L2234.4 476.5L2234.5 474.5L2234.6 472.5L2234.7 470.5L2234.8 468.5L2234.9 466.5L2235.0 464.6L2235.2 462.6L2235.3 460.6L2235.4 458.6L2235.5 456.6L2235.6 454.6L2235.8 452.5L2235.9 450.5L2236.0 448.5L2236.2 446.5L2236.3 444.5L2236.5 442.4L2236.6 440.4L2236.7 438.4L2236.9 436.3L2237.1 434.3L2237.2 432.2L2237.4 430.1L2237.5 428.1L2237.7 426.0L2237.9 423.9L2238.1 421.8L2238.2 419.7L2238.4 417.6L2238.6 415.5L2238.8 413.4L2239.0 411.2L2239.2 409.1L2239.4 407.0L2239.7 404.9L2239.9 402.8L2240.3 400.9L2240.7 399.0L2241.2 397.3L2241.8 395.8L2242.5 394.5L2243.3 393.4L2244.2 392.7L2245.0 392.5L2245.9 392.8L2246.6 393.5L2247.3 394.7L2247.8 396.2L2248.3 398.1L2248.6 400.2L2248.9 402.5L2249.1 404.9L2249.3 407.4L2249.4 409.9L2249.6 412.4L2249.7 414.7L2249.9 417.0L2250.0 419.2L2250.2 421.3L2250.3 423.3L2250.5 425.3L2250.7 427.3L2250.8 429.2L2251.0 431.1L2251.2 433.0L2251.3 434.8L2251.5 436.7L2251.7 438.5L2251.8 440.3L2252.0 442.2L2252.2 444.0L2252.3 445.9L2252.5 447.8L2252.6 449.8L2252.8 451.7L2252.9 453.7L2253.1 455.6L2253.2 457.6L2253.4 459.6L2253.5 461.6L2253.7 463.6L2253.8 465.6L2253.9 467.6L2254.1 469.6L2254.2 471.6L2254.3 473.7L2254.5 475.7L2254.6 477.7L2254.7 479.7L2254.9 481.7L2255.0 483.7L2255.1 485.8L2255.3 487.8L2255.4 489.8L2255.5 491.8L2255.7 493.8L2255.8 495.8L2255.9 497.8L2256.0 499.8L2256.2 501.8L2256.3 503.8L2256.4 505.8L2256.6 507.8L2256.7 509.8L2256.8 511.8L2256.9 513.8L2257.0 515.9L2257.2 517.9L2257.3 519.9L2257.4 521.9L2257.5 523.9L2257.7 525.8L2257.8 527.8L2257.9 529.8L2258.0 531.8L2258.1 533.8L2258.2 535.8L2258.4 537.8L2258.5 539.8L2258.6 541.8L2258.7 543.8L2258.8 545.8L2258.9 547.8L2259.1 549.8L2259.2 551.8L2259.3 553.8L2259.4 555.8L2259.5 557.8L2259.6 559.8L2259.8 561.8L2259.9 563.7L2260.0 565.7L2260.1 567.7L2260.2 569.7L2260.3 571.7L2260.4 573.7L2260.6 575.7L2260.7 577.7L2260.8 579.7L2260.9 581.7L2261.0 583.7L2261.1 585.7L2261.2 587.6L2261.4 589.6L2261.5 591.6L2261.6 593.6L2261.7 595.6L2261.8 597.6L2261.9 599.6L2262.0 601.6L2262.2 603.6L2262.3 605.6L2262.4 607.6L2262.5 609.6L2262.6 611.5L2262.7 613.5L2262.9 615.5L2263.0 617.5L2263.1 619.5L2263.2 621.5L2263.3 623.5L2263.4 625.5L2263.6 627.5L2263.7 629.5L2263.8 631.5L2263.9 633.5L2264.0 635.5L2264.1 637.5L2264.3 639.5L2264.4 641.5L2264.5 643.5L2264.6 645.5L2264.7 647.5L2264.9 649.5L2265.0 651.5L2265.1 653.5L2265.2 655.5L2265.4 657.5L2265.5 659.5L2265.6 661.5L2265.7 663.5L2265.9 665.5L2266.0 667.5L2266.1 669.5L2266.2 671.5" fill="none" stroke="#f00" stroke-width="7.3" stroke-linejoin="round"/>
<path d="M1401.7 298.1L1401.7 300.1L1401.8 302.1L1401.9 304.1L1402.0 306.1L1402.0 308.1L1402.1 310.1L1402.2 312.1L1402.3 314.1L1402.3 316.1L1402.4 318.0L1402.5 320.0L1402.6 322.0L1402.6 324.0L1402.7 326.0L1402.8 328.0L1402.9 330.0L1402.9 332.0L1403.0 334.0L1403.1 336.0L1403.1 338.0L1403.2 339.9L1403.3 341.9L1403.4 343.9L1403.4 345.9L1403.5 347.9L1403.6 349.9L1403.6 351.9L1403.7 353.9L1403.8 355.9L1403.9 357.9L1403.9 359.9L1404.0 361.9L1404.1 363.8L1404.1 365.8L1404.2 367.8L1404.3 369.8L1404.3 371.8L1404.4 373.8L1404.5 375.8L1404.5 377.8L1404.6 379.8L1404.7 381.8L1404.7 383.8L1404.8 385.8L1404.9 387.8L1404.9 389.8L1405.0 391.8L1405.1 393.8L1405.1 395.7L1405.2 397.7L1405.3 399.7L1405.3 401.7L1405.4 403.7L1405.5 405.7L1405.5 407.7L1405.6 409.7L1405.7 411.7L1405.7 413.7L1405.8 415.7L1405.8 417.7L1405.9 419.7L1406.0 421.7L1406.0 423.7L1406.1 425.7L1406.2 427.7L1406.2 429.7L1406.3 431.7L1406.4 433.7L1406.4 435.7L1406.5 437.7L1406.5 439.6L1406.6 441.6L1406.7 443.6L1406.7 445.6L1406.8 447.6L1406.8 449.6L1406.9 451.6L1407.0 453.6L1407.0 455.6L1407.1 457.6L1407.1 459.6L1407.2 461.6L1407.3 463.6L1407.3 465.6L1407.4 467.6L1407.4 469.6L1407.5 471.6L1407.6 473.6L1407.6 475.6L1407.7 477.6L1407.7 479.6L1407.8 481.6L1407.9 483.6L1407.9 485.6L1408.0 487.6L1408.0 489.6L1408.1 491.6L1408.2 493.6L1408.2 495.6L1408.3 497.6L1408.3 499.6L1408.4 501.6L1408.4 503.6L1408.5 505.6L1408.6 507.6L1408.6 509.6L1408.7 511.6L1408.7 513.6L1408.8 515.6L1408.8 517.6L1408.9 519.6L1409.0 521.6L1409.0 523.6L1409.1 525.5L1409.1 527.5L1409.2 529.5L1409.2 531.5L1409.3 533.5L1409.3 535.5L1409.4 537.5L1409.5 539.5L1409.5 541.5L1409.6 543.5L1409.6 545.5L1409.7 547.5L1409.7 549.5L1409.8 551.5L1409.8 553.5L1409.9 555.5L1410.0 557.5L1410.0 559.5L1410.1 561.5L1410.1 563.5L1410.2 565.5L1410.2 567.5L1410.3 569.5L1410.3 571.5L1410.4 573.5L1410.5 575.5L1410.5 577.5L1410.6 579.5L1410.6 581.5L1410.7 583.5L1410.7 585.5L1410.8 587.5L1410.8 589.5L1410.9 591.5L1410.9 593.5L1411.0 595.5L1411.0 597.5L1411.1 599.5L1411.2 601.5L1411.2 603.5L1411.3 605.5L1411.3 607.5L1411.4 609.5L1411.4 611.5L1411.5 613.5L1411.5 615.5L1411.6 617.5L1411.6 619.5L1411.7 621.5L1411.7 623.5L1411.8 625.5L1411.9 627.5L1411.9 629.5L1412.0 631.5L1412.0 633.5L1412.1 635.5L1412.1 637.5L1412.2 639.5L1412.2 641.5L1412.3 643.5L1412.3 645.5L1412.4 647.6L1412.4 649.6L1412.5 651.6L1412.6 653.6L1412.6 655.6L1412.7 657.6L1412.7 659.6L1412.8 661.6L1412.8 663.6L1412.9 665.6L1412.9 667.6L1413.0 669.6L1413.0 671.6L1413.1 673.6L1413.1 675.6L1413.2 677.6L1413.2 679.6L1413.3 681.6L1413.4 683.6L1413.4 685.6L1413.5 687.6L1413.5 689.6L1413.6 691.6L1413.6 693.6L1413.7 695.6L1413.7 697.6L1413.8 699.6L1413.8 701.6L1413.9 703.6L1414.0 705.6L1414.0 707.6L1414.1 709.6L1414.1 711.6L1414.2 713.6L1414.2 715.6L1414.3 717.6L1414.3 719.6L1414.4 721.6L1414.4 723.6L1414.5 725.6L1414.6 727.6L1414.6 729.6L1414.7 731.6L1414.7 733.6L1414.8 735.6L1414.8 737.6L1414.9 739.6L1414.9 741.6L1415.0 743.6L1415.1 745.6L1415.1 747.6L1415.2 749.6L1415.2 751.6L1415.3 753.6L1415.3 755.6L1415.4 757.6L1415.4 759.6L1415.5 761.6L1415.6 763.6L1415.6 765.6L1415.7 767.6L1415.7 769.6L1415.8 771.6L1415.8 773.6L1415.9 775.6L1416.0 777.6L1416.0 779.6L1416.1 781.6L1416.1 783.6L1416.2 785.6L1416.2 787.6L1416.3 789.6L1416.4 791.6L1416.4 793.6L1416.5 795.6L1416.5 797.6L1416.6 799.6L1416.7 801.6L1416.7 803.6L1416.8 805.6L1416.8 807.6L1416.9 809.6L1416.9 811.6L1417.0 813.6L1417.1 815.6L1417.1 817.6L1417.2 819.6L1417.2 821.6L1417.3 823.6L1417.4 825.6L1417.4 827.6L1417.5 829.5L1417.5 831.5L1417.6 833.5L1417.7 835.5L1417.7 837.5L1417.8 839.5L1417.8 841.5L1417.9 843.5L1418.0 845.5L1418.0 847.5L1418.1 849.5L1418.2 851.5L1418.2 853.5L1418.3 855.5L1418.3 857.5L1418.4 859.5L1418.5 861.5L1418.5 863.5L1418.6 865.5L1418.7 867.5L1418.7 869.5L1418.8 871.5L1418.9 873.5L1418.9 875.5L1419.0 877.5L1419.0 879.5L1419.1 881.5L1419.2 883.5L1419.2 885.5L1419.3 887.5L1419.4 889.5L1419.4 891.5L1419.5 893.5L1419.6 895.5L1419.6 897.5L1419.7 899.5L1419.8 901.4L1419.8 903.4L1419.9 905.4L1420.0 907.4L1420.0 909.4L1420.1 911.4L1420.2 913.4L1420.2 915.4L1420.3 917.4L1420.4 919.4L1420.5 921.4L1420.5 923.4L1420.6 925.4L1420.7 927.4L1420.7 929.4L1420.8 931.4L1420.9 933.4L1420.9 935.4L1421.0 937.4L1421.1 939.4L1421.2 941.4L1421.2 943.3L1421.3 945.3L1421.4 947.3L1421.4 949.3L1421.5 951.3L1421.6 953.3L1421.7 955.3L1421.7 957.3L1421.8 959.3L1421.9 961.3L1422.0 963.3L1422.0 965.3L1422.1 967.3L1422.2 969.3L1422.2 971.3L1422.3 973.2L1422.4 975.2L1422.5 977.2L1422.6 979.2L1422.6 981.2L1422.7 983.2L1422.8 985.2L1422.9 987.2L1422.9 989.2L1423.0 991.2L1423.1 993.2L1423.2 995.2L1423.3 997.2L1423.3 999.1L1423.4 1001.1L1423.5 1003.1L1423.6 1005.1L1423.7 1007.1L1423.7 1009.1L1423.8 1011.1L1423.9 1013.1L1424.0 1015.1L1424.1 1017.1L1424.1 1019.1L1424.2 1021.1L1424.3 1023.0L1424.4 1025.0L1424.5 1027.0L1424.6 1029.0L1424.7 1031.0L1424.7 1033.0L1424.8 1035.0L1424.9 1037.0L1425.0 1039.0L1425.1 1041.0L1425.2 1043.0L1425.3 1044.9L1425.4 1046.9L1425.5 1048.9L1425.5 1050.9L1425.6 1052.9L1425.7 1054.9L1425.8 1056.9L1425.9 1058.9L1426.0 1060.9L1426.1 1062.9L1426.2 1064.9L1426.3 1066.8L1426.4 1068.8L1426.5 1070.8L1426.6 1072.8L1426.7 1074.8L1426.8 1076.8L1426.9 1078.8L1427.0 1080.8L1427.1 1082.8L1427.2 1084.8L1427.3 1086.8L1427.4 1088.7L1427.5 1090.7L1427.6 1092.7L1427.7 1094.7L1427.8 1096.7L1427.9 1098.7L1428.0 1100.7L1428.1 1102.7L1428.2 1104.7L1428.3 1106.7L1428.4 1108.7L1428.6 1110.6L1428.7 1112.6L1428.8 1114.6L1428.9 1116.6L1429.0 1118.6L1429.1 1120.6L1429.2 1122.6L1429.3 1124.6L1429.5 1126.6L1429.6 1128.6L1429.7 1130.6L1429.8 1132.6L1429.9 1134.6L1430.0 1136.5L1430.2 1138.5L1430.3 1140.5L1430.4 1142.5L1430.5 1144.5L1430.7 1146.5L1430.8 1148.5L1430.9 1150.5L1431.0 1152.5L1431.2 1154.5L1431.3 1156.5L1431.4 1158.5L1431.5 1160.5L1431.7 1162.5L1431.8 1164.4L1431.9 1166.4L1432.1 1168.4L1432.2 1170.4L1432.3 1172.4L1432.5 1174.4L1432.6 1176.4L1432.7 1178.4L1432.9 1180.4L1433.0 1182.4L1433.2 1184.4L1433.3 1186.4L1433.4 1188.4L1433.6 1190.4L1433.7 1192.4L1433.9 1194.4L1434.0 1196.4L1434.2 1198.4L1434.3 1200.4L1434.5 1202.3L1434.6 1204.3L1434.8 1206.3L1434.9 1208.3L1435.1 1210.3L1435.2 1212.3L1435.4 1214.3L1435.5 1216.3L1435.7 1218.3L1435.8 1220.3L1436.0 1222.3L1436.2 1224.3L1436.3 1226.3L1436.5 1228.3L1436.6 1230.3L1436.8 1232.3L1437.0 1234.3L1437.1 1236.3L1437.3 1238.3L1437.5 1240.3L1437.6 1242.3L1437.8 1244.3L1438.0 1246.3L1438.2 1248.3L1438.3 1250.3L1438.5 1252.3L1438.7 1254.3L1438.9 1256.3L1439.0 1258.3L1439.2 1260.3L1439.4 1262.3L1439.6 1264.3L1439.8 1266.3L1439.9 1268.3L1440.1 1270.3L1440.3 1272.3L1440.5 1274.3L1440.7 1276.3L1440.9 1278.3L1441.1 1280.3L1441.3 1282.3L1441.5 1284.3L1441.7 1286.3L1441.9 1288.3L1442.0 1290.3L1442.2 1292.3L1442.4 1294.4L1442.6 1296.4L1442.9 1298.4L1443.1 1300.4L1443.3 1302.4L1443.5 1304.4L1443.7 1306.4L1443.9 1308.4L1444.1 1310.4L1444.3 1312.4L1444.5 1314.4L1444.7 1316.4L1444.9 1318.4L1445.2 1320.4L1445.4 1322.4L1445.6 1324.5L1445.8 1326.5L1446.1 1328.5L1446.3 1330.5L1446.5 1332.5L1446.7 1334.5L1447.0 1336.5L1447.2 1338.5L1447.5 1340.5L1447.7 1342.5L1448.0 1344.5L1448.2 1346.5L1448.5 1348.5L1448.7 1350.5L1449.0 1352.5L1449.3 1354.5L1449.5 1356.5L1449.8 1358.5L1450.1 1360.5L1450.4 1362.5L1450.7 1364.5L1451.0 1366.5L1451.3 1368.5L1451.6 1370.4L1451.9 1372.4L1452.2 1374.4L1452.6 1376.4L1452.9 1378.4L1453.2 1380.4L1453.6 1382.3L1453.9 1384.3L1454.3 1386.3L1454.7 1388.2L1455.1 1390.2L1455.4 1392.2L1455.8 1394.1L1456.2 1396.1L1456.6 1398.0L1457.0 1400.0L1457.5 1401.9L1457.9 1403.9L1458.3 1405.8L1458.8 1407.7L1459.2 1409.7L1459.7 1411.6L1460.2 1413.5L1460.7 1415.5L1461.2 1417.4L1461.7 1419.3L1462.2 1421.2L1462.7 1423.1L1463.2 1425.0L1463.8 1426.9L1464.3 1428.8L1464.9 1430.7L1465.5 1432.6L1466.1 1434.5L1466.7 1436.4L1467.3 1438.3L1467.9 1440.1L1468.5 1442.0L1469.2 1443.9L1469.8 1445.7L1470.5 1447.6L1471.2 1449.4L1471.9 1451.3L1472.6 1453.1L1473.3 1454.9L1474.0 1456.8L1474.8 1458.6L1475.5 1460.4L1476.3 1462.2L1477.1 1464.0L1477.9 1465.8L1478.7 1467.6L1479.5 1469.4L1480.4 1471.2L1481.2 1473.0L1482.1 1474.7L1483.0 1476.5L1483.9 1478.3L1484.8 1480.0L1485.7 1481.8L1486.7 1483.5L1487.6 1485.2L1488.6 1487.0L1489.6 1488.7L1490.6 1490.4L1491.6 1492.1L1492.6 1493.8L1493.7 1495.5L1494.8 1497.2L1495.9 1498.8L1497.0 1500.5L1498.1 1502.2L1499.2 1503.8L1500.3 1505.4L1501.5 1507.1L1502.7 1508.7L1503.9 1510.3L1505.1 1511.9L1506.3 1513.4L1507.6 1515.0L1508.8 1516.6L1510.1 1518.1L1511.4 1519.6L1512.7 1521.1L1514.0 1522.6L1515.3 1524.1L1516.7 1525.6L1518.0 1527.0L1519.4 1528.4L1520.8 1529.9L1522.2 1531.3L1523.6 1532.6L1525.1 1534.0L1526.5 1535.4L1528.0 1536.7L1529.5 1538.0L1531.0 1539.3L1532.5 1540.6L1534.1 1541.8L1535.6 1543.0L1537.2 1544.2L1538.7 1545.4L1540.3 1546.6L1541.9 1547.7L1543.6 1548.9L1545.2 1550.0L1546.9 1551.1L1548.5 1552.1L1550.2 1553.2L1551.9 1554.2L1553.6 1555.2L1555.3 1556.2L1557.0 1557.2L1558.8 1558.2L1560.5 1559.1L1562.3 1560.1L1564.0 1561.0L1565.8 1561.9L1567.6 1562.7L1569.4 1563.6L1571.2 1564.4L1573.0 1565.3L1574.8 1566.1L1576.7 1566.9L1578.5 1567.7L1580.4 1568.5L1582.2 1569.2L1584.1 1570.0L1585.9 1570.7L1587.8 1571.4L1589.7 1572.1L1591.6 1572.8L1593.5 1573.5L1595.4 1574.2L1597.3 1574.8L1599.2 1575.5L1601.1 1576.1L1603.0 1576.7L1604.9 1577.3L1606.8 1577.9L1608.7 1578.5L1610.6 1579.1L1612.6 1579.7L1614.5 1580.3L1616.4 1580.8L1618.4 1581.3L1620.3 1581.9L1622.2 1582.4L1624.2 1582.9L1626.1 1583.4L1628.1 1583.9L1630.0 1584.4L1632.0 1584.9L1633.9 1585.3L1635.9 1585.8L1637.8 1586.2L1639.8 1586.7L1641.7 1587.1L1643.7 1587.5L1645.7 1588.0L1647.6 1588.4L1649.6 1588.8L1651.6 1589.1L1653.6 1589.5L1655.5 1589.9L1657.5 1590.3L1659.5 1590.6L1661.5 1591.0L1663.5 1591.3L1665.4 1591.6L1667.4 1592.0L1669.4 1592.3L1671.4 1592.6L1673.4 1592.9L1675.4 1593.2L1677.4 1593.5L1679.4 1593.8L1681.4 1594.1L1683.3 1594.3L1685.3 1594.6L1687.3 1594.8L1689.3 1595.1L1691.3 1595.3L1693.3 1595.6L1695.3 1595.8L1697.3 1596.0L1699.3 1596.3L1701.3 1596.5L1703.3 1596.7L1705.4 1596.9L1707.4 1597.1L1709.4 1597.3L1711.4 1597.4L1713.4 1597.6L1715.4 1597.8L1717.4 1598.0L1719.4 1598.1L1721.4 1598.3L1723.4 1598.4L1725.4 1598.6L1727.4 1598.7L1729.4 1598.9L1731.4 1599.0L1733.5 1599.1L1735.5 1599.3L1737.5 1599.4L1739.5 1599.5L1741.5 1599.6L1743.5 1599.7L1745.5 1599.8L1747.5 1599.9L1749.5 1600.0L1751.5 1600.1L1753.5 1600.2L1755.5 1600.3L1757.5 1600.4L1759.5 1600.5L1761.5 1600.6L1763.5 1600.7L1765.5 1600.7L1767.5 1600.8L1769.5 1600.9L1771.5 1600.9L1773.5 1601.0L1775.5 1601.1L1777.5 1601.1L1779.5 1601.2L1781.5 1601.2L1783.5 1601.3L1785.5 1601.3L1787.5 1601.4L1789.5 1601.4L1791.5 1601.5L1793.5 1601.5L1795.5 1601.5L1797.4 1601.6L1799.4 1601.6L1801.4 1601.6L1803.4 1601.7L1805.4 1601.7L1807.4 1601.7L1809.3 1601.7L1811.3 1601.8L1813.3 1601.8L1815.3 1601.8L1817.3 1601.8L1819.2 1601.8L1821.2 1601.8L1823.2 1601.8L1825.2 1601.8L1827.1 1601.8L1829.1 1601.8L1831.1 1601.8L1833.1 1601.8L1835.0 1601.8L1837.0 1601.8L1839.0 1601.8L1841.0 1601.7L1842.9 1601.7L1844.9 1601.7L1846.9 1601.7L1848.8 1601.6L1850.8 1601.6L1852.8 1601.6L1854.8 1601.5L1856.7 1601.5L1858.7 1601.5L1860.7 1601.4L1862.6 1601.4L1864.6 1601.3L1866.6 1601.3L1868.6 1601.2L1870.5 1601.1L1872.5 1601.1L1874.5 1601.0L1876.5 1600.9L1878.4 1600.9L1880.4 1600.8L1882.4 1600.7L1884.4 1600.6L1886.3 1600.5L1888.3 1600.4L1890.3 1600.4L1892.3 1600.3L1894.3 1600.2L1896.2 1600.1L1898.2 1600.0L1900.2 1599.8L1902.2 1599.7L1904.2 1599.6L1906.1 1599.5L1908.1 1599.4L1910.1 1599.3L1912.1 1599.1L1914.1 1599.0L1916.1 1598.9L1918.1 1598.7L1920.1 1598.6L1922.0 1598.4L1924.0 1598.3L1926.0 1598.1L1928.0 1598.0L1930.0 1597.8L1932.0 1597.7L1934.0 1597.5L1936.0 1597.3L1938.0 1597.1L1940.0 1597.0L1942.0 1596.8L1944.0 1596.6L1946.0 1596.4L1948.1 1596.2L1950.1 1596.0L1952.1 1595.8L1954.1 1595.6L1956.1 1595.4L1958.1 1595.2L1960.1 1595.0L1962.2 1594.8L1964.2 1594.5L1966.2 1594.3L1968.2 1594.1L1970.2 1593.8L1972.3 1593.6L1974.3 1593.4L1976.3 1593.1L1978.3 1592.8L1980.4 1592.6L1982.4 1592.3L1984.4 1592.0L1986.4 1591.8L1988.5 1591.5L1990.5 1591.2L1992.5 1590.9L1994.5 1590.6L1996.6 1590.3L1998.6 1589.9L2000.6 1589.6L2002.6 1589.3L2004.6 1588.9L2006.6 1588.6L2008.7 1588.2L2010.7 1587.9L2012.7 1587.5L2014.7 1587.1L2016.7 1586.7L2018.7 1586.3L2020.7 1585.9L2022.7 1585.5L2024.6 1585.1L2026.6 1584.6L2028.6 1584.2L2030.6 1583.7L2032.6 1583.3L2034.5 1582.8L2036.5 1582.3L2038.4 1581.8L2040.4 1581.3L2042.3 1580.8L2044.3 1580.2L2046.2 1579.7L2048.2 1579.2L2050.1 1578.6L2052.0 1578.0L2053.9 1577.4L2055.8 1576.8L2057.7 1576.2L2059.6 1575.6L2061.5 1575.0L2063.4 1574.3L2065.3 1573.7L2067.2 1573.0L2069.0 1572.3L2070.9 1571.6L2072.7 1570.9L2074.6 1570.2L2076.4 1569.4L2078.2 1568.7L2080.1 1567.9L2081.9 1567.1L2083.7 1566.3L2085.5 1565.5L2087.3 1564.7L2089.0 1563.9L2090.8 1563.0L2092.6 1562.2L2094.3 1561.3L2096.0 1560.4L2097.8 1559.4L2099.5 1558.5L2101.2 1557.6L2102.9 1556.6L2104.6 1555.6L2106.3 1554.6L2107.9 1553.6L2109.6 1552.6L2111.2 1551.5L2112.9 1550.5L2114.5 1549.4L2116.1 1548.3L2117.7 1547.2L2119.3 1546.0L2120.9 1544.9L2122.4 1543.7L2124.0 1542.5L2125.5 1541.3L2127.1 1540.1L2128.6 1538.8L2130.1 1537.6L2131.6 1536.3L2133.1 1535.0L2134.5 1533.7L2136.0 1532.3L2137.4 1531.0L2138.8 1529.6L2140.2 1528.2L2141.6 1526.8L2143.0 1525.4L2144.4 1524.0L2145.7 1522.5L2147.1 1521.1L2148.4 1519.6L2149.7 1518.1L2151.0 1516.6L2152.2 1515.1L2153.5 1513.5L2154.7 1512.0L2156.0 1510.4L2157.2 1508.8L2158.4 1507.2L2159.5 1505.6L2160.7 1504.0L2161.8 1502.4L2163.0 1500.7L2164.1 1499.1L2165.1 1497.4L2166.2 1495.7L2167.3 1494.0L2168.3 1492.3L2169.3 1490.6L2170.3 1488.9L2171.3 1487.1L2172.2 1485.4L2173.2 1483.6L2174.1 1481.9L2175.0 1480.1L2175.9 1478.3L2176.7 1476.5L2177.6 1474.7L2178.4 1472.9L2179.2 1471.1L2180.0 1469.2L2180.8 1467.4L2181.6 1465.6L2182.3 1463.7L2183.0 1461.8L2183.8 1460.0L2184.5 1458.1L2185.2 1456.2L2185.8 1454.3L2186.5 1452.4L2187.1 1450.5L2187.8 1448.6L2188.4 1446.7L2189.0 1444.8L2189.6 1442.9L2190.2 1441.0L2190.8 1439.0L2191.3 1437.1L2191.9 1435.2L2192.4 1433.2L2193.0 1431.3L2193.5 1429.3L2194.0 1427.4L2194.5 1425.4L2195.0 1423.5L2195.5 1421.5L2196.0 1419.6L2196.5 1417.6L2197.0 1415.7L2197.4 1413.7L2197.9 1411.7L2198.4 1409.8L2198.8 1407.8L2199.2 1405.8L2199.7 1403.9L2200.1 1401.9L2200.6 1399.9L2201.0 1398.0L2201.4 1396.0L2201.8 1394.0L2202.2 1392.1L2202.6 1390.1L2203.0 1388.1L2203.4 1386.2L2203.8 1384.2L2204.2 1382.2L2204.6 1380.3L2204.9 1378.3L2205.3 1376.3L2205.7 1374.4L2206.0 1372.4L2206.4 1370.4L2206.8 1368.4L2207.1 1366.5L2207.4 1364.5L2207.8 1362.5L2208.1 1360.6L2208.5 1358.6L2208.8 1356.6L2209.1 1354.6L2209.4 1352.7L2209.7 1350.7L2210.0 1348.7L2210.4 1346.7L2210.7 1344.8L2211.0 1342.8L2211.2 1340.8L2211.5 1338.8L2211.8 1336.8L2212.1 1334.9L2212.4 1332.9L2212.7 1330.9L2212.9 1328.9L2213.2 1327.0L2213.5 1325.0L2213.7 1323.0L2214.0 1321.0L2214.3 1319.0L2214.5 1317.1L2214.8 1315.1L2215.0 1313.1L2215.2 1311.1L2215.5 1309.1L2215.7 1307.2L2215.9 1305.2L2216.2 1303.2L2216.4 1301.2L2216.6 1299.2L2216.9 1297.2L2217.1 1295.3L2217.3 1293.3L2217.5 1291.3L2217.7 1289.3L2217.9 1287.3L2218.1 1285.3L2218.3 1283.4L2218.5 1281.4L2218.7 1279.4L2218.9 1277.4L2219.1 1275.4L2219.3 1273.4L2219.5 1271.4L2219.7 1269.5L2219.9 1267.5L2220.0 1265.5L2220.2 1263.5L2220.4 1261.5L2220.6 1259.5L2220.7 1257.5L2220.9 1255.5L2221.1 1253.6L2221.3 1251.6L2221.4 1249.6L2221.6 1247.6L2221.7 1245.6L2221.9 1243.6L2222.1 1241.6L2222.2 1239.6L2222.4 1237.6L2222.5 1235.7L2222.7 1233.7L2222.8 1231.7L2223.0 1229.7L2223.1 1227.7L2223.3 1225.7L2223.4 1223.7L2223.6 1221.7L2223.7 1219.7L2223.9 1217.7L2224.0 1215.8L2224.1 1213.8L2224.3 1211.8L2224.4 1209.8L2224.6 1207.8L2224.7 1205.8L2224.8 1203.8L2225.0 1201.8L2225.1 1199.8L2225.2 1197.8L2225.4 1195.8L2225.5 1193.9L2225.6 1191.9L2225.8 1189.9L2225.9 1187.9L2226.0 1185.9L2226.2 1183.9L2226.3 1181.9L2226.4 1179.9L2226.5 1177.9L2226.7 1175.9L2226.8 1173.9L2226.9 1171.9L2227.0 1169.9L2227.2 1167.9L2227.3 1166.0L2227.4 1164.0L2227.5 1162.0L2227.7 1160.0L2227.8 1158.0L2227.9 1156.0L2228.0 1154.0L2228.2 1152.0L2228.3 1150.0L2228.4 1148.0L2228.5 1146.0L2228.6 1144.0L2228.7 1142.0L2228.9 1140.0L2229.0 1138.0L2229.1 1136.0L2229.2 1134.1L2229.3 1132.1L2229.4 1130.1L2229.6 1128.1L2229.7 1126.1L2229.8 1124.1L2229.9 1122.1L2230.0 1120.1L2230.1 1118.1L2230.2 1116.1L2230.3 1114.1L2230.5 1112.1L2230.6 1110.1L2230.7 1108.1L2230.8 1106.1L2230.9 1104.1L2231.0 1102.1L2231.1 1100.1L2231.2 1098.1L2231.3 1096.1L2231.4 1094.2L2231.5 1092.2L2231.6 1090.2L2231.7 1088.2L2231.8 1086.2L2232.0 1084.2L2232.1 1082.2L2232.2 1080.2L2232.3 1078.2L2232.4 1076.2L2232.5 1074.2L2232.6 1072.2L2232.7 1070.2L2232.8 1068.2L2232.9 1066.2L2233.0 1064.2L2233.1 1062.2L2233.2 1060.2L2233.3 1058.2L2233.4 1056.2L2233.5 1054.2L2233.5 1052.2L2233.6 1050.2L2233.7 1048.2L2233.8 1046.2L2233.9 1044.2L2234.0 1042.2L2234.1 1040.2L2234.2 1038.2L2234.3 1036.2L2234.4 1034.3L2234.5 1032.3L2234.6 1030.3L2234.7 1028.3L2234.8 1026.3L2234.9 1024.3L2234.9 1022.3L2235.0 1020.3L2235.1 1018.3L2235.2 1016.3L2235.3 1014.3L2235.4 1012.3L2235.5 1010.3L2235.6 1008.3L2235.7 1006.3L2235.7 1004.3L2235.8 1002.3L2235.9 1000.3L2236.0 998.3L2236.1 996.3L2236.2 994.3L2236.3 992.3L2236.3 990.3L2236.4 988.3L2236.5 986.3L2236.6 984.3L2236.7 982.3L2236.8 980.3L2236.8 978.3L2236.9 976.3L2237.0 974.3L2237.1 972.3L2237.2 970.3L2237.2 968.3L2237.3 966.3L2237.4 964.3L2237.5 962.3L2237.6 960.3L2237.6 958.3L2237.7 956.3L2237.8 954.3L2237.9 952.3L2238.0 950.3L2238.0 948.3L2238.1 946.3L2238.2 944.3L2238.3 942.3L2238.3 940.3L2238.4 938.3L2238.5 936.3L2238.6 934.4L2238.6 932.4L2238.7 930.4L2238.8 928.4L2238.9 926.4L2238.9 924.4L2239.0 922.4L2239.1 920.4L2239.2 918.4L2239.2 916.4L2239.3 914.4L2239.4 912.4L2239.4 910.4L2239.5 908.4L2239.6 906.4L2239.7 904.4L2239.7 902.4L2239.8 900.4L2239.9 898.4L2239.9 896.4L2240.0 894.4L2240.1 892.4L2240.2 890.4L2240.2 888.4L2240.3 886.4L2240.4 884.4L2240.4 882.4L2240.5 880.4L2240.6 878.4L2240.6 876.4L2240.7 874.4L2240.8 872.4L2240.8 870.4L2240.9 868.4L2241.0 866.4L2241.0 864.4L2241.1 862.4L2241.2 860.4L2241.2 858.4L2241.3 856.4L2241.4 854.4L2241.4 852.4L2241.5 850.4L2241.6 848.4L2241.6 846.4L2241.7 844.4L2241.8 842.4L2241.8 840.4L2241.9 838.4L2242.0 836.4L2242.0 834.4L2242.1 832.4L2242.1 830.4L2242.2 828.4L2242.3 826.4L2242.3 824.4L2242.4 822.4L2242.5 820.4L2242.5 818.5L2242.6 816.5L2242.6 814.5L2242.7 812.5L2242.8 810.5L2242.8 808.5L2242.9 806.5L2243.0 804.5L2243.0 802.5L2243.1 800.5L2243.1 798.5L2243.2 796.5L2243.3 794.5L2243.3 792.5L2243.4 790.5L2243.4 788.5L2243.5 786.5L2243.6 784.5L2243.6 782.5L2243.7 780.5L2243.7 778.5L2243.8 776.5L2243.9 774.5L2243.9 772.5L2244.0 770.5L2244.0 768.5L2244.1 766.5L2244.1 764.5L2244.2 762.5L2244.3 760.5L2244.3 758.5L2244.4 756.5L2244.4 754.5L2244.5 752.5L2244.5 750.5L2244.6 748.5L2244.7 746.5L2244.7 744.5L2244.8 742.5L2244.8 740.5L2244.9 738.5L2244.9 736.5L2245.0 734.5L2245.1 732.5L2245.1 730.5L2245.2 728.5L2245.2 726.5L2245.3 724.5L2245.3 722.5L2245.4 720.6L2245.4 718.6L2245.5 716.6L2245.6 714.6L2245.6 712.6L2245.7 710.6L2245.7 708.6L2245.8 706.6L2245.8 704.6L2245.9 702.6L2245.9 700.6L2246.0 698.6L2246.0 696.6L2246.1 694.6L2246.2 692.6L2246.2 690.6L2246.3 688.6L2246.3 686.6L2246.4 684.6L2246.4 682.6L2246.5 680.6L2246.5 678.6L2246.6 676.6L2246.6 674.6L2246.7 672.6L2246.7 670.6L2246.8 668.6L2246.9 666.6L2246.9 664.6L2247.0 662.6L2247.0 660.6L2247.1 658.6L2247.1 656.6L2247.2 654.6L2247.2 652.6L2247.3 650.6L2247.3 648.6L2247.4 646.6L2247.4 644.6L2247.5 642.6L2247.5 640.6L2247.6 638.6L2247.6 636.6L2247.7 634.6L2247.8 632.6L2247.8 630.7L2247.9 628.7L2247.9 626.7L2248.0 624.7L2248.0 622.7L2248.1 620.7L2248.1 618.7L2248.2 616.7L2248.2 614.7L2248.3 612.7L2248.3 610.7L2248.4 608.7L2248.4 606.7L2248.5 604.7L2248.5 602.7L2248.6 600.7L2248.6 598.7L2248.7 596.7L2248.7 594.7L2248.8 592.7L2248.9 590.7L2248.9 588.7L2249.0 586.7L2249.0 584.7L2249.1 582.7L2249.1 580.7L2249.2 578.7L2249.2 576.7L2249.3 574.7L2249.3 572.7L2249.4 570.7L2249.4 568.7L2249.5 566.7L2249.5 564.7L2249.6 562.7L2249.6 560.7L2249.7 558.7L2249.7 556.7L2249.8 554.7L2249.8 552.7L2249.9 550.7L2250.0 548.7L2250.0 546.7L2250.1 544.7L2250.1 542.8L2250.2 540.8L2250.2 538.8L2250.3 536.8L2250.3 534.8L2250.4 532.8L2250.4 530.8L2250.5 528.8L2250.5 526.8L2250.6 524.8L2250.6 522.8L2250.7 520.8L2250.7 518.8L2250.8 516.8L2250.8 514.8L2250.9 512.8L2251.0 510.8L2251.0 508.8L2251.1 506.8L2251.1 504.8L2251.2 502.8L2251.2 500.8L2251.3 498.8L2251.3 496.8L2251.4 494.8L2251.4 492.8L2251.5 490.8L2251.5 488.8L2251.6 486.8L2251.7 484.8L2251.7 482.8L2251.8 480.8L2251.8 478.8L2251.9 476.8L2251.9 474.8L2252.0 472.8L2252.0 470.8L2252.1 468.8L2252.1 466.8L2252.2 464.8L2252.3 462.8L2252.3 460.8L2252.4 458.8L2252.4 456.8L2252.5 454.8L2252.5 452.8L2252.6 450.8L2252.6 448.9L2252.7 446.9L2252.8 444.9L2252.8 442.9L2252.9 440.9L2252.9 438.9L2253.0 436.9L2253.0 434.9L2253.1 432.9L2253.2 430.9L2253.2 428.9L2253.3 426.9L2253.3 424.9L2253.4 422.9L2253.4 420.9L2253.5 418.9L2253.6 416.9L2253.6 414.9L2253.7 412.9L2253.7 410.9L2253.8 408.9L2253.9 406.9L2253.9 404.9L2254.0 402.9L2254.0 400.9L2254.1 398.9L2254.1 396.9L2254.2 394.9L2254.3 392.9L2254.3 390.9L2254.4 388.9L2254.4 386.9L2254.5 384.9L2254.6 382.9L2254.6 380.9L2254.7 378.9L2254.7 376.9L2254.8 374.9L2254.9 372.9L2254.9 370.9L2255.0 368.9L2255.1 366.9L2255.1 364.9L2255.2 362.9L2255.2 360.9L2255.3 358.9L2255.4 356.9L2255.4 354.9L2255.5 352.9L2255.6 350.9L2255.6 348.9L2255.7 346.9L2255.7 344.9L2255.8 342.9L2255.9 340.9L2255.9 339.0L2256.0 337.0L2256.1 335.0L2256.1 333.0L2256.2 331.0L2256.3 329.0L2256.3 327.0L2256.4 325.0L2256.5 323.0L2256.5 321.0L2256.6 319.0L2256.7 317.0L2256.7 315.0L2256.8 313.0L2256.9 311.0L2256.9 309.0L2257.0 307.0L2257.1 305.0L2257.1 303.0" fill="none" stroke="#00f" stroke-width="7.3" stroke-dasharray="25.4 25.450" stroke-dashoffset="-0.638"/>
<path d="M2258.0 295.0L2259.6 282.0L2261.2 273.5L2262.6 270.5L2264.1 273.5L2265.2 281.0L2265.5 291.6" fill="none" stroke="#00f" stroke-width="7.3" stroke-linejoin="round"/>
<text transform="translate(200.50,169.00) scale(1.0,1.045)" text-anchor="end" font-family="'Liberation Sans', Arial, Helvetica, sans-serif" font-size="62.7" fill="#262626">0</text>
<text transform="translate(200.50,365.00) scale(1.0,1.045)" text-anchor="end" font-family="'Liberation Sans', Arial, Helvetica, sans-serif" font-size="62.7" fill="#262626">-0.5</text>
<text transform="translate(200.50,561.00) scale(1.0,1.045)" text-anchor="end" font-family="'Liberation Sans', Arial, Helvetica, sans-serif" font-size="62.7" fill="#262626">-1</text>
<text transform="translate(200.50,757.00) scale(1.0,1.045)" text-anchor="end" font-family="'Liberation Sans', Arial, Helvetica, sans-serif" font-size="62.7" fill="#262626">-1.5</text>
<text transform="translate(200.50,953.00) scale(1.0,1.045)" text-anchor="end" font-family="'Liberation Sans', Arial, Helvetica, sans-serif" font-size="62.7" fill="#262626">-2</text>
<text transform="translate(200.50,1148.00) scale(1.0,1.045)" text-anchor="end" font-family="'Liberation Sans', Arial, Helvetica, sans-serif" font-size="62.7" fill="#262626">-2.5</text>
<text transform="translate(200.50,1344.00) scale(1.0,1.045)" text-anchor="end" font-family="'Liberation Sans', Arial, Helvetica, sans-serif" font-size="62.7" fill="#262626">-3</text>
<text transform="translate(200.50,1540.00) scale(1.0,1.045)" text-anchor="end" font-family="'Liberation Sans', Arial, Helvetica, sans-serif" font-size="62.7" fill="#262626">-3.5</text>
<text transform="translate(200.50,1736.00) scale(1.0,1.045)" text-anchor="end" font-family="'Liberation Sans', Arial, Helvetica, sans-serif" font-size="62.7" fill="#262626">-4</text>
<text transform="translate(1381.50,1736.00) scale(1.0,1.045)" text-anchor="end" font-family="'Liberation Sans', Arial, Helvetica, sans-serif" font-size="62.7" fill="#262626">0</text>
<text transform="translate(1381.50,1562.00) scale(1.0,1.045)" text-anchor="end" font-family="'Liberation Sans', Arial, Helvetica, sans-serif" font-size="62.7" fill="#262626">2</text>
<text transform="translate(1381.50,1388.00) scale(1.0,1.045)" text-anchor="end" font-family="'Liberation Sans', Arial, Helvetica, sans-serif" font-size="62.7" fill="#262626">4</text>
<text transform="translate(1381.50,1214.00) scale(1.0,1.045)" text-anchor="end" font-family="'Liberation Sans', Arial, Helvetica, sans-serif" font-size="62.7" fill="#262626">6</text>
<text transform="translate(1381.50,1040.00) scale(1.0,1.045)" text-anchor="end" font-family="'Liberation Sans', Arial, Helvetica, sans-serif" font-size="62.7" fill="#262626">8</text>
<text transform="translate(1381.50,866.00) scale(1.0,1.045)" text-anchor="end" font-family="'Liberation Sans', Arial, Helvetica, sans-serif" font-size="62.7" fill="#262626">10</text>
<text transform="translate(1381.50,692.00) scale(1.0,1.045)" text-anchor="end" font-family="'Liberation Sans', Arial, Helvetica, sans-serif" font-size="62.7" fill="#262626">12</text>
<text transform="translate(1381.50,518.00) scale(1.0,1.045)" text-anchor="end" font-family="'Liberation Sans', Arial, Helvetica, sans-serif" font-size="62.7" fill="#262626">14</text>
<text transform="translate(1381.50,344.00) scale(1.0,1.045)" text-anchor="end" font-family="'Liberation Sans', Arial, Helvetica, sans-serif" font-size="62.7" fill="#262626">16</text>
<text transform="translate(1381.50,169.00) scale(1.0,1.045)" text-anchor="end" font-family="'Liberation Sans', Arial, Helvetica, sans-serif" font-size="62.7" fill="#262626">18</text>
<text transform="translate(221.50,1795.00) scale(1.0,1.045)" text-anchor="middle" font-family="'Liberation Sans', Arial, Helvetica, sans-serif" font-size="62.7" fill="#262626">1.5623</text>
<text transform="translate(618.50,1795.00) scale(1.0,1.045)" text-anchor="middle" font-family="'Liberation Sans', Arial, Helvetica, sans-serif" font-size="62.7" fill="#262626">1.564</text>
<text transform="translate(1085.50,1795.00) scale(1.0,1.045)" text-anchor="middle" font-family="'Liberation Sans', Arial, Helvetica, sans-serif" font-size="62.7" fill="#262626">1.566</text>
<text transform="translate(1423.50,1795.00) scale(1.0,1.045)" text-anchor="middle" font-family="'Liberation Sans', Arial, Helvetica, sans-serif" font-size="62.7" fill="#262626">1.5623</text>
<text transform="translate(1801.50,1795.00) scale(1.0,1.045)" text-anchor="middle" font-family="'Liberation Sans', Arial, Helvetica, sans-serif" font-size="62.7" fill="#262626">1.564</text>
<text transform="translate(2245.00,1795.00) scale(1.0,1.045)" text-anchor="middle" font-family="'Liberation Sans', Arial, Helvetica, sans-serif" font-size="62.7" fill="#262626">1.566</text>
<text transform="translate(384.90,1884.00) scale(1.0,1.025)" text-anchor="start" font-family="'Liberation Sans', Arial, Helvetica, sans-serif" font-size="70" fill="#262626">Wavelength (</text>
<text transform="matrix(0.8364 0.0000 0.0000 0.6933 797.9000 1884.8933)" font-family="'Liberation Serif', 'Times New Roman', serif" font-style="italic" font-size="100" fill="#262626">μ</text>
<text transform="translate(838.80,1884.00) scale(1.0,1.025)" text-anchor="start" font-family="'Liberation Sans', Arial, Helvetica, sans-serif" font-size="70" fill="#262626">m)</text>
<text transform="translate(1566.50,1884.00) scale(1.0,1.025)" text-anchor="start" font-family="'Liberation Sans', Arial, Helvetica, sans-serif" font-size="70" fill="#262626">Wavelength (</text>
<text transform="matrix(0.8364 0.0000 0.0000 0.6933 1979.5000 1884.8933)" font-family="'Liberation Serif', 'Times New Roman', serif" font-style="italic" font-size="100" fill="#262626">μ</text>
<text transform="translate(2020.40,1884.00) scale(1.0,1.025)" text-anchor="start" font-family="'Liberation Sans', Arial, Helvetica, sans-serif" font-size="70" fill="#262626">m)</text>
<text transform="matrix(0.0000 -0.6448 0.7206 0.0000 66.6000 992.4343)" font-family="'Liberation Serif', 'Times New Roman', serif" font-size="100" fill="#262626" stroke="#262626" stroke-width="1.551" stroke-linejoin="round">Φ</text>
<text transform="matrix(0.0000 -0.7640 0.7701 0.0000 66.9299 944.0000)" font-family="'Liberation Serif', 'Times New Roman', serif" font-size="100" fill="#262626">/</text>
<text transform="matrix(0.0000 -0.7575 0.6830 0.0000 67.3170 921.3787)" font-family="'Liberation Serif', 'Times New Roman', serif" font-style="italic" font-size="100" fill="#262626">π</text>
<text transform="matrix(0.0000 -0.6804 0.6375 0.0000 1283.6437 1036.7619)" font-family="'Liberation Sans', Arial, Helvetica, sans-serif" font-size="100" fill="#262626">-</text>
<text transform="matrix(0.0000 -0.7156 0.6993 0.0000 1285.9007 1014.2411)" font-family="'Liberation Sans', Arial, Helvetica, sans-serif" font-size="100" fill="#262626">d</text>
<text transform="matrix(0.0000 -0.6448 0.7176 0.0000 1285.7000 971.4343)" font-family="'Liberation Serif', 'Times New Roman', serif" font-size="100" fill="#262626" stroke="#262626" stroke-width="1.551" stroke-linejoin="round">Φ</text>
<text transform="matrix(0.0000 -0.7532 0.7672 0.0000 1285.8328 922.8000)" font-family="'Liberation Serif', 'Times New Roman', serif" font-size="100" fill="#262626">/</text>
<text transform="matrix(0.0000 -0.7156 0.6993 0.0000 1285.9007 903.4411)" font-family="'Liberation Sans', Arial, Helvetica, sans-serif" font-size="100" fill="#262626">d</text>
<text transform="matrix(0.0000 -0.6651 0.6743 0.0000 1286.2257 865.0615)" font-family="'Liberation Serif', 'Times New Roman', serif" font-style="italic" font-size="100" fill="#262626">ω</text>
<text transform="translate(341.00,240.00) scale(1.0,1.0)" text-anchor="middle" font-family="'Liberation Sans', Arial, Helvetica, sans-serif" font-size="62.7" fill="#000">(a)</text>
<text transform="translate(1513.00,240.00) scale(1.0,1.0)" text-anchor="middle" font-family="'Liberation Sans', Arial, Helvetica, sans-serif" font-size="62.7" fill="#000">(b)</text>
<rect x="882" y="16" width="879" height="81" fill="#fff" stroke="#262626" stroke-width="2"/>
<path d="M891 56.4H987" stroke="#00f" stroke-width="7" stroke-dasharray="27 24"/>
<path d="M1331 56.4H1427" stroke="#f00" stroke-width="7"/>
<text transform="translate(994.70,81.00) scale(1.0,1.0)" text-anchor="start" font-family="'Liberation Sans', Arial, Helvetica, sans-serif" font-size="57.4" fill="#000">1</text>
<text transform="matrix(0.6562 0.0000 0.0000 0.6225 1031.3067 87.5472)" font-family="'Liberation Sans', Arial, Helvetica, sans-serif" font-size="100" fill="#000">×</text>
<text transform="translate(1071.90,81.00) scale(1.0,1.0)" text-anchor="start" font-family="'Liberation Sans', Arial, Helvetica, sans-serif" font-size="57.4" fill="#000">20 arrays</text>
<text transform="translate(1433.90,81.00) scale(1.0,1.0)" text-anchor="start" font-family="'Liberation Sans', Arial, Helvetica, sans-serif" font-size="57.4" fill="#000">3</text>
<text transform="matrix(0.6584 0.0000 0.0000 0.6225 1470.0910 87.5472)" font-family="'Liberation Sans', Arial, Helvetica, sans-serif" font-size="100" fill="#000">×</text>
<text transform="translate(1510.90,81.00) scale(1.0,1.0)" text-anchor="start" font-family="'Liberation Sans', Arial, Helvetica, sans-serif" font-size="57.4" fill="#000">20 arrays</text>
</svg>
</body></html>
